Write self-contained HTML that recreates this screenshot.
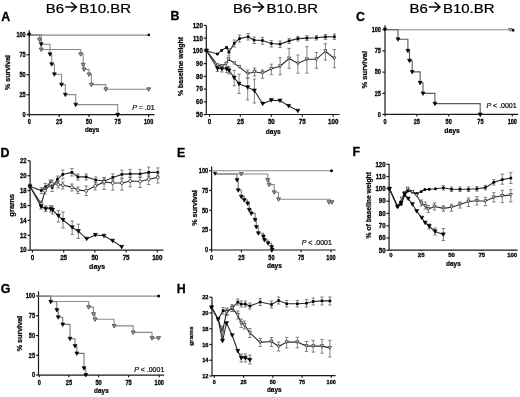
<!DOCTYPE html>
<html><head><meta charset="utf-8"><style>
html,body{margin:0;padding:0;background:#fff;}
svg{display:block;will-change:transform;}
text{font-family:"Liberation Sans", sans-serif;}
</style></head><body>
<svg width="520" height="397" viewBox="0 0 520 397">
<rect width="520" height="397" fill="#fff"/>
<g>
<text transform="translate(45.80 12.60) scale(1.12 1.0)" font-size="13.4" font-weight="normal" text-anchor="start" fill="#000" stroke="#000" stroke-width="0.25">B6</text>
<path d="M65.30,7 H76.30 M71.10,2.3 L76.40,7 L71.10,11.7" fill="none" stroke="#000" stroke-width="1.4"/>
<text transform="translate(79.30 12.60) scale(1.12 1.0)" font-size="13.4" font-weight="normal" text-anchor="start" fill="#000" stroke="#000" stroke-width="0.25">B10.BR</text>
<text transform="translate(232.90 12.60) scale(1.12 1.0)" font-size="13.4" font-weight="normal" text-anchor="start" fill="#000" stroke="#000" stroke-width="0.25">B6</text>
<path d="M252.40,7 H263.40 M258.20,2.3 L263.50,7 L258.20,11.7" fill="none" stroke="#000" stroke-width="1.4"/>
<text transform="translate(266.40 12.60) scale(1.12 1.0)" font-size="13.4" font-weight="normal" text-anchor="start" fill="#000" stroke="#000" stroke-width="0.25">B10.BR</text>
<text transform="translate(409.40 12.60) scale(1.12 1.0)" font-size="13.4" font-weight="normal" text-anchor="start" fill="#000" stroke="#000" stroke-width="0.25">B6</text>
<path d="M428.90,7 H439.90 M434.70,2.3 L440.00,7 L434.70,11.7" fill="none" stroke="#000" stroke-width="1.4"/>
<text transform="translate(442.90 12.60) scale(1.12 1.0)" font-size="13.4" font-weight="normal" text-anchor="start" fill="#000" stroke="#000" stroke-width="0.25">B10.BR</text>
<text transform="translate(1.30 20.70)" font-size="12.4" font-weight="bold" text-anchor="start" fill="#000" stroke="#000" stroke-width="0.3">A</text>
<text transform="translate(170.50 20.40)" font-size="12.4" font-weight="bold" text-anchor="start" fill="#000" stroke="#000" stroke-width="0.3">B</text>
<text transform="translate(356.00 20.60)" font-size="12.4" font-weight="bold" text-anchor="start" fill="#000" stroke="#000" stroke-width="0.3">C</text>
<text transform="translate(0.60 156.80)" font-size="12.4" font-weight="bold" text-anchor="start" fill="#000" stroke="#000" stroke-width="0.3">D</text>
<text transform="translate(177.10 156.60)" font-size="12.4" font-weight="bold" text-anchor="start" fill="#000" stroke="#000" stroke-width="0.3">E</text>
<text transform="translate(352.40 156.40)" font-size="12.4" font-weight="bold" text-anchor="start" fill="#000" stroke="#000" stroke-width="0.3">F</text>
<text transform="translate(0.80 292.50)" font-size="12.4" font-weight="bold" text-anchor="start" fill="#000" stroke="#000" stroke-width="0.3">G</text>
<text transform="translate(176.80 292.60)" font-size="12.4" font-weight="bold" text-anchor="start" fill="#000" stroke="#000" stroke-width="0.3">H</text>
<!--PANELS-->
<line x1="29.20" y1="30.30" x2="29.20" y2="114.70" stroke="#1a1a1a" stroke-width="1.2"/>
<line x1="26.60" y1="34.80" x2="29.20" y2="34.80" stroke="#1a1a1a" stroke-width="1.2"/>
<text transform="translate(25.70 37.10) scale(0.83 1.0)" font-size="6.7" font-weight="bold" text-anchor="end" fill="#000" stroke="#000" stroke-width="0.28">100</text>
<line x1="26.60" y1="54.78" x2="29.20" y2="54.78" stroke="#1a1a1a" stroke-width="1.2"/>
<text transform="translate(25.70 57.08) scale(0.83 1.0)" font-size="6.7" font-weight="bold" text-anchor="end" fill="#000" stroke="#000" stroke-width="0.28">75</text>
<line x1="26.60" y1="74.75" x2="29.20" y2="74.75" stroke="#1a1a1a" stroke-width="1.2"/>
<text transform="translate(25.70 77.05) scale(0.83 1.0)" font-size="6.7" font-weight="bold" text-anchor="end" fill="#000" stroke="#000" stroke-width="0.28">50</text>
<line x1="26.60" y1="94.72" x2="29.20" y2="94.72" stroke="#1a1a1a" stroke-width="1.2"/>
<text transform="translate(25.70 97.03) scale(0.83 1.0)" font-size="6.7" font-weight="bold" text-anchor="end" fill="#000" stroke="#000" stroke-width="0.28">25</text>
<line x1="26.60" y1="114.70" x2="29.20" y2="114.70" stroke="#1a1a1a" stroke-width="1.2"/>
<text transform="translate(25.70 117.00) scale(0.83 1.0)" font-size="6.7" font-weight="bold" text-anchor="end" fill="#000" stroke="#000" stroke-width="0.28">0</text>
<line x1="29.20" y1="114.70" x2="154.40" y2="114.70" stroke="#1a1a1a" stroke-width="1.2"/>
<line x1="29.30" y1="114.70" x2="29.30" y2="116.90" stroke="#1a1a1a" stroke-width="1.2"/>
<text transform="translate(29.30 123.80) scale(0.83 1.0)" font-size="6.7" font-weight="bold" text-anchor="middle" fill="#000" stroke="#000" stroke-width="0.28">0</text>
<line x1="59.20" y1="114.70" x2="59.20" y2="116.90" stroke="#1a1a1a" stroke-width="1.2"/>
<text transform="translate(59.20 123.80) scale(0.83 1.0)" font-size="6.7" font-weight="bold" text-anchor="middle" fill="#000" stroke="#000" stroke-width="0.28">25</text>
<line x1="88.90" y1="114.70" x2="88.90" y2="116.90" stroke="#1a1a1a" stroke-width="1.2"/>
<text transform="translate(88.90 123.80) scale(0.83 1.0)" font-size="6.7" font-weight="bold" text-anchor="middle" fill="#000" stroke="#000" stroke-width="0.28">50</text>
<line x1="117.70" y1="114.70" x2="117.70" y2="116.90" stroke="#1a1a1a" stroke-width="1.2"/>
<text transform="translate(117.70 123.80) scale(0.83 1.0)" font-size="6.7" font-weight="bold" text-anchor="middle" fill="#000" stroke="#000" stroke-width="0.28">75</text>
<line x1="148.60" y1="114.70" x2="148.60" y2="116.90" stroke="#1a1a1a" stroke-width="1.2"/>
<text transform="translate(148.60 123.80) scale(0.83 1.0)" font-size="6.7" font-weight="bold" text-anchor="middle" fill="#000" stroke="#000" stroke-width="0.28">100</text>
<text transform="translate(10.30 72.50) rotate(-90)" font-size="7.1" font-weight="bold" text-anchor="middle" fill="#111" stroke="#111" stroke-width="0.3">% survival</text>
<text transform="translate(92.10 132.40)" font-size="6.3" font-weight="bold" text-anchor="middle" fill="#000" stroke="#000" stroke-width="0.2">days</text>
<text x="154.60" y="109.60" font-size="7" text-anchor="end" fill="#000" stroke="#000" stroke-width="0.2"><tspan font-style="italic">P</tspan> = .01</text>
<line x1="29.20" y1="35.10" x2="148.70" y2="35.10" stroke="#8a8a8a" stroke-width="1.2"/>
<rect x="147.60" y="33.70" width="2.4" height="2.4" fill="#000"/>
<path d="M29.20,34.90 H39.60 V39.60 H41.20 V49.50 H80.70 V54.20 H83.20 V64.80 H84.00 V69.40 H89.00 V74.40 H91.40 V84.60 H105.80 V89.30 H148.70 V89.30" fill="none" stroke="#8a8a8a" stroke-width="1.1"/>
<path d="M29.20,34.90 H41.20 V44.20 H50.00 V54.20 H51.70 V64.20 H54.40 V74.30 H61.50 V84.60 H65.30 V94.60 H75.70 V104.60 H117.70 V114.70" fill="none" stroke="#8a8a8a" stroke-width="1.1"/>
<polygon points="37.45,38.14 41.35,38.14 39.40,41.66" fill="#a0a0a0" stroke="#505050" stroke-width="0.9"/>
<polygon points="39.25,48.04 43.15,48.04 41.20,51.55" fill="#a0a0a0" stroke="#505050" stroke-width="0.9"/>
<polygon points="78.75,52.74 82.65,52.74 80.70,56.26" fill="#a0a0a0" stroke="#505050" stroke-width="0.9"/>
<polygon points="81.25,63.34 85.15,63.34 83.20,66.85" fill="#a0a0a0" stroke="#505050" stroke-width="0.9"/>
<polygon points="82.05,67.95 85.95,67.95 84.00,71.45" fill="#a0a0a0" stroke="#505050" stroke-width="0.9"/>
<polygon points="87.05,72.95 90.95,72.95 89.00,76.45" fill="#a0a0a0" stroke="#505050" stroke-width="0.9"/>
<polygon points="89.45,83.14 93.35,83.14 91.40,86.65" fill="#a0a0a0" stroke="#505050" stroke-width="0.9"/>
<polygon points="103.85,87.84 107.75,87.84 105.80,91.35" fill="#a0a0a0" stroke="#505050" stroke-width="0.9"/>
<polygon points="146.75,87.84 150.65,87.84 148.70,91.35" fill="#a0a0a0" stroke="#505050" stroke-width="0.9"/>
<polygon points="39.25,42.74 43.15,42.74 41.20,46.26" fill="#000" stroke="#000" stroke-width="0.6"/>
<polygon points="48.05,52.74 51.95,52.74 50.00,56.26" fill="#000" stroke="#000" stroke-width="0.6"/>
<polygon points="49.75,62.74 53.65,62.74 51.70,66.25" fill="#000" stroke="#000" stroke-width="0.6"/>
<polygon points="52.45,72.84 56.35,72.84 54.40,76.35" fill="#000" stroke="#000" stroke-width="0.6"/>
<polygon points="59.55,83.14 63.45,83.14 61.50,86.65" fill="#000" stroke="#000" stroke-width="0.6"/>
<polygon points="63.35,93.14 67.25,93.14 65.30,96.65" fill="#000" stroke="#000" stroke-width="0.6"/>
<polygon points="73.75,103.14 77.65,103.14 75.70,106.65" fill="#000" stroke="#000" stroke-width="0.6"/>
<polygon points="115.75,113.25 119.65,113.25 117.70,116.75" fill="#000" stroke="#000" stroke-width="0.6"/>
<polygon points="27.50,33.07 30.90,33.07 29.20,36.13" fill="#000" stroke="#000" stroke-width="0.6"/>
<line x1="206.30" y1="25.40" x2="206.30" y2="114.60" stroke="#1a1a1a" stroke-width="1.2"/>
<line x1="203.70" y1="25.40" x2="206.30" y2="25.40" stroke="#1a1a1a" stroke-width="1.2"/>
<text transform="translate(202.80 27.77) scale(0.88 1.0)" font-size="6.9" font-weight="bold" text-anchor="end" fill="#000" stroke="#000" stroke-width="0.28">120</text>
<line x1="203.70" y1="38.14" x2="206.30" y2="38.14" stroke="#1a1a1a" stroke-width="1.2"/>
<text transform="translate(202.80 40.52) scale(0.88 1.0)" font-size="6.9" font-weight="bold" text-anchor="end" fill="#000" stroke="#000" stroke-width="0.28">110</text>
<line x1="203.70" y1="50.89" x2="206.30" y2="50.89" stroke="#1a1a1a" stroke-width="1.2"/>
<text transform="translate(202.80 53.26) scale(0.88 1.0)" font-size="6.9" font-weight="bold" text-anchor="end" fill="#000" stroke="#000" stroke-width="0.28">100</text>
<line x1="203.70" y1="63.63" x2="206.30" y2="63.63" stroke="#1a1a1a" stroke-width="1.2"/>
<text transform="translate(202.80 66.00) scale(0.88 1.0)" font-size="6.9" font-weight="bold" text-anchor="end" fill="#000" stroke="#000" stroke-width="0.28">90</text>
<line x1="203.70" y1="76.37" x2="206.30" y2="76.37" stroke="#1a1a1a" stroke-width="1.2"/>
<text transform="translate(202.80 78.75) scale(0.88 1.0)" font-size="6.9" font-weight="bold" text-anchor="end" fill="#000" stroke="#000" stroke-width="0.28">80</text>
<line x1="203.70" y1="89.11" x2="206.30" y2="89.11" stroke="#1a1a1a" stroke-width="1.2"/>
<text transform="translate(202.80 91.49) scale(0.88 1.0)" font-size="6.9" font-weight="bold" text-anchor="end" fill="#000" stroke="#000" stroke-width="0.28">70</text>
<line x1="203.70" y1="101.86" x2="206.30" y2="101.86" stroke="#1a1a1a" stroke-width="1.2"/>
<text transform="translate(202.80 104.23) scale(0.88 1.0)" font-size="6.9" font-weight="bold" text-anchor="end" fill="#000" stroke="#000" stroke-width="0.28">60</text>
<line x1="203.70" y1="114.60" x2="206.30" y2="114.60" stroke="#1a1a1a" stroke-width="1.2"/>
<text transform="translate(202.80 116.97) scale(0.88 1.0)" font-size="6.9" font-weight="bold" text-anchor="end" fill="#000" stroke="#000" stroke-width="0.28">50</text>
<line x1="206.30" y1="114.50" x2="339.60" y2="114.50" stroke="#1a1a1a" stroke-width="1.2"/>
<line x1="209.50" y1="114.50" x2="209.50" y2="116.70" stroke="#1a1a1a" stroke-width="1.2"/>
<text transform="translate(209.50 124.27) scale(0.9 1.0)" font-size="6.9" font-weight="bold" text-anchor="middle" fill="#000" stroke="#000" stroke-width="0.28">0</text>
<line x1="240.43" y1="114.50" x2="240.43" y2="116.70" stroke="#1a1a1a" stroke-width="1.2"/>
<text transform="translate(240.43 124.27) scale(0.9 1.0)" font-size="6.9" font-weight="bold" text-anchor="middle" fill="#000" stroke="#000" stroke-width="0.28">25</text>
<line x1="271.35" y1="114.50" x2="271.35" y2="116.70" stroke="#1a1a1a" stroke-width="1.2"/>
<text transform="translate(271.35 124.27) scale(0.9 1.0)" font-size="6.9" font-weight="bold" text-anchor="middle" fill="#000" stroke="#000" stroke-width="0.28">50</text>
<line x1="302.27" y1="114.50" x2="302.27" y2="116.70" stroke="#1a1a1a" stroke-width="1.2"/>
<text transform="translate(302.27 124.27) scale(0.9 1.0)" font-size="6.9" font-weight="bold" text-anchor="middle" fill="#000" stroke="#000" stroke-width="0.28">75</text>
<line x1="333.20" y1="114.50" x2="333.20" y2="116.70" stroke="#1a1a1a" stroke-width="1.2"/>
<text transform="translate(333.20 124.27) scale(0.9 1.0)" font-size="6.9" font-weight="bold" text-anchor="middle" fill="#000" stroke="#000" stroke-width="0.28">100</text>
<text transform="translate(182.60 66.50) rotate(-90)" font-size="6.85" font-weight="bold" text-anchor="middle" fill="#111" stroke="#111" stroke-width="0.3">% baseline weight</text>
<text transform="translate(273.20 133.60)" font-size="6.6" font-weight="bold" text-anchor="middle" fill="#000" stroke="#000" stroke-width="0.2">days</text>
<line x1="228.90" y1="48.50" x2="228.90" y2="56.00" stroke="#666666" stroke-width="0.8"/>
<line x1="227.20" y1="48.50" x2="230.60" y2="48.50" stroke="#666666" stroke-width="0.8"/>
<line x1="227.20" y1="56.00" x2="230.60" y2="56.00" stroke="#666666" stroke-width="0.8"/>
<line x1="234.20" y1="40.00" x2="234.20" y2="47.00" stroke="#666666" stroke-width="0.8"/>
<line x1="232.50" y1="40.00" x2="235.90" y2="40.00" stroke="#666666" stroke-width="0.8"/>
<line x1="232.50" y1="47.00" x2="235.90" y2="47.00" stroke="#666666" stroke-width="0.8"/>
<line x1="239.50" y1="35.00" x2="239.50" y2="42.00" stroke="#666666" stroke-width="0.8"/>
<line x1="237.80" y1="35.00" x2="241.20" y2="35.00" stroke="#666666" stroke-width="0.8"/>
<line x1="237.80" y1="42.00" x2="241.20" y2="42.00" stroke="#666666" stroke-width="0.8"/>
<line x1="248.10" y1="33.50" x2="248.10" y2="40.00" stroke="#666666" stroke-width="0.8"/>
<line x1="246.40" y1="33.50" x2="249.80" y2="33.50" stroke="#666666" stroke-width="0.8"/>
<line x1="246.40" y1="40.00" x2="249.80" y2="40.00" stroke="#666666" stroke-width="0.8"/>
<line x1="254.10" y1="37.00" x2="254.10" y2="43.50" stroke="#666666" stroke-width="0.8"/>
<line x1="252.40" y1="37.00" x2="255.80" y2="37.00" stroke="#666666" stroke-width="0.8"/>
<line x1="252.40" y1="43.50" x2="255.80" y2="43.50" stroke="#666666" stroke-width="0.8"/>
<line x1="262.50" y1="37.30" x2="262.50" y2="44.30" stroke="#666666" stroke-width="0.8"/>
<line x1="260.80" y1="37.30" x2="264.20" y2="37.30" stroke="#666666" stroke-width="0.8"/>
<line x1="260.80" y1="44.30" x2="264.20" y2="44.30" stroke="#666666" stroke-width="0.8"/>
<line x1="271.40" y1="40.50" x2="271.40" y2="47.00" stroke="#666666" stroke-width="0.8"/>
<line x1="269.70" y1="40.50" x2="273.10" y2="40.50" stroke="#666666" stroke-width="0.8"/>
<line x1="269.70" y1="47.00" x2="273.10" y2="47.00" stroke="#666666" stroke-width="0.8"/>
<line x1="280.10" y1="41.00" x2="280.10" y2="47.50" stroke="#666666" stroke-width="0.8"/>
<line x1="278.40" y1="41.00" x2="281.80" y2="41.00" stroke="#666666" stroke-width="0.8"/>
<line x1="278.40" y1="47.50" x2="281.80" y2="47.50" stroke="#666666" stroke-width="0.8"/>
<line x1="289.10" y1="38.40" x2="289.10" y2="43.50" stroke="#666666" stroke-width="0.8"/>
<line x1="287.40" y1="38.40" x2="290.80" y2="38.40" stroke="#666666" stroke-width="0.8"/>
<line x1="287.40" y1="43.50" x2="290.80" y2="43.50" stroke="#666666" stroke-width="0.8"/>
<line x1="297.90" y1="36.40" x2="297.90" y2="41.00" stroke="#666666" stroke-width="0.8"/>
<line x1="296.20" y1="36.40" x2="299.60" y2="36.40" stroke="#666666" stroke-width="0.8"/>
<line x1="296.20" y1="41.00" x2="299.60" y2="41.00" stroke="#666666" stroke-width="0.8"/>
<line x1="306.90" y1="35.60" x2="306.90" y2="40.60" stroke="#666666" stroke-width="0.8"/>
<line x1="305.20" y1="35.60" x2="308.60" y2="35.60" stroke="#666666" stroke-width="0.8"/>
<line x1="305.20" y1="40.60" x2="308.60" y2="40.60" stroke="#666666" stroke-width="0.8"/>
<line x1="316.40" y1="35.60" x2="316.40" y2="40.00" stroke="#666666" stroke-width="0.8"/>
<line x1="314.70" y1="35.60" x2="318.10" y2="35.60" stroke="#666666" stroke-width="0.8"/>
<line x1="314.70" y1="40.00" x2="318.10" y2="40.00" stroke="#666666" stroke-width="0.8"/>
<line x1="325.40" y1="34.50" x2="325.40" y2="39.40" stroke="#666666" stroke-width="0.8"/>
<line x1="323.70" y1="34.50" x2="327.10" y2="34.50" stroke="#666666" stroke-width="0.8"/>
<line x1="323.70" y1="39.40" x2="327.10" y2="39.40" stroke="#666666" stroke-width="0.8"/>
<line x1="334.40" y1="34.00" x2="334.40" y2="39.40" stroke="#666666" stroke-width="0.8"/>
<line x1="332.70" y1="34.00" x2="336.10" y2="34.00" stroke="#666666" stroke-width="0.8"/>
<line x1="332.70" y1="39.40" x2="336.10" y2="39.40" stroke="#666666" stroke-width="0.8"/>
<polyline points="206.50,50.70 217.40,54.00 221.60,50.40 226.60,47.40 228.90,52.20 234.20,43.40 239.50,38.60 248.10,36.80 254.10,40.10 262.50,40.50 271.40,43.50 280.10,44.10 289.10,40.90 297.90,38.60 306.90,38.10 316.40,37.70 325.40,36.90 334.40,36.80" fill="none" stroke="#2a2a2a" stroke-width="1.1" stroke-linejoin="miter"/>
<rect x="205.20" y="49.40" width="2.6" height="2.6" fill="#000"/>
<rect x="216.10" y="52.70" width="2.6" height="2.6" fill="#000"/>
<rect x="220.30" y="49.10" width="2.6" height="2.6" fill="#000"/>
<rect x="225.30" y="46.10" width="2.6" height="2.6" fill="#000"/>
<rect x="227.60" y="50.90" width="2.6" height="2.6" fill="#000"/>
<rect x="232.90" y="42.10" width="2.6" height="2.6" fill="#000"/>
<rect x="238.20" y="37.30" width="2.6" height="2.6" fill="#000"/>
<rect x="246.80" y="35.50" width="2.6" height="2.6" fill="#000"/>
<rect x="252.80" y="38.80" width="2.6" height="2.6" fill="#000"/>
<rect x="261.20" y="39.20" width="2.6" height="2.6" fill="#000"/>
<rect x="270.10" y="42.20" width="2.6" height="2.6" fill="#000"/>
<rect x="278.80" y="42.80" width="2.6" height="2.6" fill="#000"/>
<rect x="287.80" y="39.60" width="2.6" height="2.6" fill="#000"/>
<rect x="296.60" y="37.30" width="2.6" height="2.6" fill="#000"/>
<rect x="305.60" y="36.80" width="2.6" height="2.6" fill="#000"/>
<rect x="315.10" y="36.40" width="2.6" height="2.6" fill="#000"/>
<rect x="324.10" y="35.60" width="2.6" height="2.6" fill="#000"/>
<rect x="333.10" y="35.50" width="2.6" height="2.6" fill="#000"/>
<line x1="247.70" y1="70.00" x2="247.70" y2="78.00" stroke="#666666" stroke-width="0.8"/>
<line x1="246.00" y1="70.00" x2="249.40" y2="70.00" stroke="#666666" stroke-width="0.8"/>
<line x1="246.00" y1="78.00" x2="249.40" y2="78.00" stroke="#666666" stroke-width="0.8"/>
<line x1="254.60" y1="68.00" x2="254.60" y2="76.00" stroke="#666666" stroke-width="0.8"/>
<line x1="252.90" y1="68.00" x2="256.30" y2="68.00" stroke="#666666" stroke-width="0.8"/>
<line x1="252.90" y1="76.00" x2="256.30" y2="76.00" stroke="#666666" stroke-width="0.8"/>
<line x1="262.50" y1="70.00" x2="262.50" y2="78.20" stroke="#666666" stroke-width="0.8"/>
<line x1="260.80" y1="70.00" x2="264.20" y2="70.00" stroke="#666666" stroke-width="0.8"/>
<line x1="260.80" y1="78.20" x2="264.20" y2="78.20" stroke="#666666" stroke-width="0.8"/>
<line x1="271.40" y1="64.20" x2="271.40" y2="74.80" stroke="#666666" stroke-width="0.8"/>
<line x1="269.70" y1="64.20" x2="273.10" y2="64.20" stroke="#666666" stroke-width="0.8"/>
<line x1="269.70" y1="74.80" x2="273.10" y2="74.80" stroke="#666666" stroke-width="0.8"/>
<line x1="280.10" y1="57.70" x2="280.10" y2="74.80" stroke="#666666" stroke-width="0.8"/>
<line x1="278.40" y1="57.70" x2="281.80" y2="57.70" stroke="#666666" stroke-width="0.8"/>
<line x1="278.40" y1="74.80" x2="281.80" y2="74.80" stroke="#666666" stroke-width="0.8"/>
<line x1="289.10" y1="48.40" x2="289.10" y2="68.30" stroke="#666666" stroke-width="0.8"/>
<line x1="287.40" y1="48.40" x2="290.80" y2="48.40" stroke="#666666" stroke-width="0.8"/>
<line x1="287.40" y1="68.30" x2="290.80" y2="68.30" stroke="#666666" stroke-width="0.8"/>
<line x1="297.90" y1="55.00" x2="297.90" y2="73.20" stroke="#666666" stroke-width="0.8"/>
<line x1="296.20" y1="55.00" x2="299.60" y2="55.00" stroke="#666666" stroke-width="0.8"/>
<line x1="296.20" y1="73.20" x2="299.60" y2="73.20" stroke="#666666" stroke-width="0.8"/>
<line x1="306.90" y1="46.70" x2="306.90" y2="73.20" stroke="#666666" stroke-width="0.8"/>
<line x1="305.20" y1="46.70" x2="308.60" y2="46.70" stroke="#666666" stroke-width="0.8"/>
<line x1="305.20" y1="73.20" x2="308.60" y2="73.20" stroke="#666666" stroke-width="0.8"/>
<line x1="316.40" y1="52.50" x2="316.40" y2="68.30" stroke="#666666" stroke-width="0.8"/>
<line x1="314.70" y1="52.50" x2="318.10" y2="52.50" stroke="#666666" stroke-width="0.8"/>
<line x1="314.70" y1="68.30" x2="318.10" y2="68.30" stroke="#666666" stroke-width="0.8"/>
<line x1="325.40" y1="43.80" x2="325.40" y2="60.10" stroke="#666666" stroke-width="0.8"/>
<line x1="323.70" y1="43.80" x2="327.10" y2="43.80" stroke="#666666" stroke-width="0.8"/>
<line x1="323.70" y1="60.10" x2="327.10" y2="60.10" stroke="#666666" stroke-width="0.8"/>
<line x1="334.40" y1="49.50" x2="334.40" y2="67.80" stroke="#666666" stroke-width="0.8"/>
<line x1="332.70" y1="49.50" x2="336.10" y2="49.50" stroke="#666666" stroke-width="0.8"/>
<line x1="332.70" y1="67.80" x2="336.10" y2="67.80" stroke="#666666" stroke-width="0.8"/>
<polyline points="206.50,50.70 217.80,65.30 221.80,66.00 226.20,63.70 228.50,59.20 234.20,63.10 239.20,66.90 247.70,73.70 254.60,71.70 262.50,73.20 271.40,68.80 280.10,66.20 289.10,58.50 297.90,63.40 306.90,59.30 316.40,59.30 325.40,51.20 334.40,58.50" fill="none" stroke="#2a2a2a" stroke-width="1.1" stroke-linejoin="miter"/>
<polygon points="204.90,49.26 208.10,49.26 206.50,52.14" fill="#fff" stroke="#333" stroke-width="0.8"/>
<polygon points="216.20,63.86 219.40,63.86 217.80,66.74" fill="#fff" stroke="#333" stroke-width="0.8"/>
<polygon points="220.20,64.56 223.40,64.56 221.80,67.44" fill="#fff" stroke="#333" stroke-width="0.8"/>
<polygon points="224.60,62.26 227.80,62.26 226.20,65.14" fill="#fff" stroke="#333" stroke-width="0.8"/>
<polygon points="226.90,57.76 230.10,57.76 228.50,60.64" fill="#fff" stroke="#333" stroke-width="0.8"/>
<polygon points="232.60,61.66 235.80,61.66 234.20,64.54" fill="#fff" stroke="#333" stroke-width="0.8"/>
<polygon points="237.60,65.46 240.80,65.46 239.20,68.34" fill="#fff" stroke="#333" stroke-width="0.8"/>
<polygon points="246.10,72.26 249.30,72.26 247.70,75.14" fill="#fff" stroke="#333" stroke-width="0.8"/>
<polygon points="253.00,70.26 256.20,70.26 254.60,73.14" fill="#fff" stroke="#333" stroke-width="0.8"/>
<polygon points="260.90,71.76 264.10,71.76 262.50,74.64" fill="#fff" stroke="#333" stroke-width="0.8"/>
<polygon points="269.80,67.36 273.00,67.36 271.40,70.24" fill="#fff" stroke="#333" stroke-width="0.8"/>
<polygon points="278.50,64.76 281.70,64.76 280.10,67.64" fill="#fff" stroke="#333" stroke-width="0.8"/>
<polygon points="287.50,57.06 290.70,57.06 289.10,59.94" fill="#fff" stroke="#333" stroke-width="0.8"/>
<polygon points="296.30,61.96 299.50,61.96 297.90,64.84" fill="#fff" stroke="#333" stroke-width="0.8"/>
<polygon points="305.30,57.86 308.50,57.86 306.90,60.74" fill="#fff" stroke="#333" stroke-width="0.8"/>
<polygon points="314.80,57.86 318.00,57.86 316.40,60.74" fill="#fff" stroke="#333" stroke-width="0.8"/>
<polygon points="323.80,49.76 327.00,49.76 325.40,52.64" fill="#fff" stroke="#333" stroke-width="0.8"/>
<polygon points="332.80,57.06 336.00,57.06 334.40,59.94" fill="#fff" stroke="#333" stroke-width="0.8"/>
<line x1="217.50" y1="66.00" x2="217.50" y2="71.50" stroke="#666666" stroke-width="0.8"/>
<line x1="215.80" y1="66.00" x2="219.20" y2="66.00" stroke="#666666" stroke-width="0.8"/>
<line x1="215.80" y1="71.50" x2="219.20" y2="71.50" stroke="#666666" stroke-width="0.8"/>
<line x1="221.90" y1="66.00" x2="221.90" y2="72.00" stroke="#666666" stroke-width="0.8"/>
<line x1="220.20" y1="66.00" x2="223.60" y2="66.00" stroke="#666666" stroke-width="0.8"/>
<line x1="220.20" y1="72.00" x2="223.60" y2="72.00" stroke="#666666" stroke-width="0.8"/>
<line x1="226.70" y1="66.00" x2="226.70" y2="72.50" stroke="#666666" stroke-width="0.8"/>
<line x1="225.00" y1="66.00" x2="228.40" y2="66.00" stroke="#666666" stroke-width="0.8"/>
<line x1="225.00" y1="72.50" x2="228.40" y2="72.50" stroke="#666666" stroke-width="0.8"/>
<line x1="229.00" y1="66.50" x2="229.00" y2="74.00" stroke="#666666" stroke-width="0.8"/>
<line x1="227.30" y1="66.50" x2="230.70" y2="66.50" stroke="#666666" stroke-width="0.8"/>
<line x1="227.30" y1="74.00" x2="230.70" y2="74.00" stroke="#666666" stroke-width="0.8"/>
<line x1="234.20" y1="70.40" x2="234.20" y2="85.80" stroke="#666666" stroke-width="0.8"/>
<line x1="232.50" y1="70.40" x2="235.90" y2="70.40" stroke="#666666" stroke-width="0.8"/>
<line x1="232.50" y1="85.80" x2="235.90" y2="85.80" stroke="#666666" stroke-width="0.8"/>
<line x1="239.00" y1="74.20" x2="239.00" y2="93.50" stroke="#666666" stroke-width="0.8"/>
<line x1="237.30" y1="74.20" x2="240.70" y2="74.20" stroke="#666666" stroke-width="0.8"/>
<line x1="237.30" y1="93.50" x2="240.70" y2="93.50" stroke="#666666" stroke-width="0.8"/>
<line x1="247.70" y1="78.00" x2="247.70" y2="100.00" stroke="#666666" stroke-width="0.8"/>
<line x1="246.00" y1="78.00" x2="249.40" y2="78.00" stroke="#666666" stroke-width="0.8"/>
<line x1="246.00" y1="100.00" x2="249.40" y2="100.00" stroke="#666666" stroke-width="0.8"/>
<line x1="254.40" y1="79.00" x2="254.40" y2="103.00" stroke="#666666" stroke-width="0.8"/>
<line x1="252.70" y1="79.00" x2="256.10" y2="79.00" stroke="#666666" stroke-width="0.8"/>
<line x1="252.70" y1="103.00" x2="256.10" y2="103.00" stroke="#666666" stroke-width="0.8"/>
<polyline points="206.50,50.70 217.50,68.50 221.90,68.80 226.70,69.00 229.00,70.40 234.20,77.70 239.00,83.80 247.70,87.30 254.40,90.60 262.70,103.70 271.30,100.20 280.00,100.60 288.70,106.00 297.90,110.80" fill="none" stroke="#2a2a2a" stroke-width="1.1" stroke-linejoin="miter"/>
<polygon points="204.45,49.06 208.55,49.06 206.50,52.75" fill="#000" stroke="#000" stroke-width="0.5"/>
<polygon points="215.45,66.86 219.55,66.86 217.50,70.55" fill="#000" stroke="#000" stroke-width="0.5"/>
<polygon points="219.85,67.16 223.95,67.16 221.90,70.84" fill="#000" stroke="#000" stroke-width="0.5"/>
<polygon points="224.65,67.36 228.75,67.36 226.70,71.05" fill="#000" stroke="#000" stroke-width="0.5"/>
<polygon points="226.95,68.76 231.05,68.76 229.00,72.45" fill="#000" stroke="#000" stroke-width="0.5"/>
<polygon points="232.15,76.06 236.25,76.06 234.20,79.75" fill="#000" stroke="#000" stroke-width="0.5"/>
<polygon points="236.95,82.16 241.05,82.16 239.00,85.84" fill="#000" stroke="#000" stroke-width="0.5"/>
<polygon points="245.65,85.66 249.75,85.66 247.70,89.34" fill="#000" stroke="#000" stroke-width="0.5"/>
<polygon points="252.35,88.95 256.45,88.95 254.40,92.64" fill="#000" stroke="#000" stroke-width="0.5"/>
<polygon points="260.65,102.06 264.75,102.06 262.70,105.75" fill="#000" stroke="#000" stroke-width="0.5"/>
<polygon points="269.25,98.56 273.35,98.56 271.30,102.25" fill="#000" stroke="#000" stroke-width="0.5"/>
<polygon points="277.95,98.95 282.05,98.95 280.00,102.64" fill="#000" stroke="#000" stroke-width="0.5"/>
<polygon points="286.65,104.36 290.75,104.36 288.70,108.05" fill="#000" stroke="#000" stroke-width="0.5"/>
<polygon points="295.85,109.16 299.95,109.16 297.90,112.84" fill="#000" stroke="#000" stroke-width="0.5"/>
<line x1="385.00" y1="25.30" x2="385.00" y2="114.40" stroke="#1a1a1a" stroke-width="1.2"/>
<line x1="382.40" y1="29.80" x2="385.00" y2="29.80" stroke="#1a1a1a" stroke-width="1.2"/>
<text transform="translate(380.90 32.10) scale(0.83 1.0)" font-size="6.7" font-weight="bold" text-anchor="end" fill="#000" stroke="#000" stroke-width="0.28">100</text>
<line x1="382.40" y1="50.98" x2="385.00" y2="50.98" stroke="#1a1a1a" stroke-width="1.2"/>
<text transform="translate(380.90 53.28) scale(0.83 1.0)" font-size="6.7" font-weight="bold" text-anchor="end" fill="#000" stroke="#000" stroke-width="0.28">75</text>
<line x1="382.40" y1="72.15" x2="385.00" y2="72.15" stroke="#1a1a1a" stroke-width="1.2"/>
<text transform="translate(380.90 74.45) scale(0.83 1.0)" font-size="6.7" font-weight="bold" text-anchor="end" fill="#000" stroke="#000" stroke-width="0.28">50</text>
<line x1="382.40" y1="93.33" x2="385.00" y2="93.33" stroke="#1a1a1a" stroke-width="1.2"/>
<text transform="translate(380.90 95.63) scale(0.83 1.0)" font-size="6.7" font-weight="bold" text-anchor="end" fill="#000" stroke="#000" stroke-width="0.28">25</text>
<line x1="382.40" y1="114.50" x2="385.00" y2="114.50" stroke="#1a1a1a" stroke-width="1.2"/>
<text transform="translate(380.90 116.80) scale(0.83 1.0)" font-size="6.7" font-weight="bold" text-anchor="end" fill="#000" stroke="#000" stroke-width="0.28">0</text>
<line x1="385.00" y1="114.40" x2="518.20" y2="114.40" stroke="#1a1a1a" stroke-width="1.2"/>
<line x1="385.00" y1="114.40" x2="385.00" y2="116.60" stroke="#1a1a1a" stroke-width="1.2"/>
<text transform="translate(385.00 123.90) scale(0.83 1.0)" font-size="6.7" font-weight="bold" text-anchor="middle" fill="#000" stroke="#000" stroke-width="0.28">0</text>
<line x1="416.80" y1="114.40" x2="416.80" y2="116.60" stroke="#1a1a1a" stroke-width="1.2"/>
<text transform="translate(416.80 123.90) scale(0.83 1.0)" font-size="6.7" font-weight="bold" text-anchor="middle" fill="#000" stroke="#000" stroke-width="0.28">25</text>
<line x1="448.70" y1="114.40" x2="448.70" y2="116.60" stroke="#1a1a1a" stroke-width="1.2"/>
<text transform="translate(448.70 123.90) scale(0.83 1.0)" font-size="6.7" font-weight="bold" text-anchor="middle" fill="#000" stroke="#000" stroke-width="0.28">50</text>
<line x1="480.40" y1="114.40" x2="480.40" y2="116.60" stroke="#1a1a1a" stroke-width="1.2"/>
<text transform="translate(480.40 123.90) scale(0.83 1.0)" font-size="6.7" font-weight="bold" text-anchor="middle" fill="#000" stroke="#000" stroke-width="0.28">75</text>
<line x1="512.30" y1="114.40" x2="512.30" y2="116.60" stroke="#1a1a1a" stroke-width="1.2"/>
<text transform="translate(512.30 123.90) scale(0.83 1.0)" font-size="6.7" font-weight="bold" text-anchor="middle" fill="#000" stroke="#000" stroke-width="0.28">100</text>
<text transform="translate(366.50 69.80) rotate(-90)" font-size="7.6" font-weight="bold" text-anchor="middle" fill="#111" stroke="#111" stroke-width="0.3">% survival</text>
<text transform="translate(452.10 133.30)" font-size="6.8" font-weight="bold" text-anchor="middle" fill="#000" stroke="#000" stroke-width="0.2">days</text>
<text x="516.60" y="108.20" font-size="7" text-anchor="end" fill="#000" stroke="#000" stroke-width="0.2"><tspan font-style="italic">P</tspan> &lt; .0001</text>
<line x1="385.00" y1="29.80" x2="509.50" y2="29.80" stroke="#8a8a8a" stroke-width="1.1"/>
<path d="M385.00,29.80 H398.00 V39.30 H407.90 V50.80 H409.50 V60.60 H412.20 V71.90 H420.10 V82.80 H423.00 V93.40 H434.90 V103.60 H480.20 V114.40" fill="none" stroke="#5a5a5a" stroke-width="1.1"/>
<polygon points="396.05,37.84 399.95,37.84 398.00,41.35" fill="#000" stroke="#000" stroke-width="0.6"/>
<polygon points="405.95,49.34 409.85,49.34 407.90,52.85" fill="#000" stroke="#000" stroke-width="0.6"/>
<polygon points="407.55,59.14 411.45,59.14 409.50,62.66" fill="#000" stroke="#000" stroke-width="0.6"/>
<polygon points="410.25,70.45 414.15,70.45 412.20,73.95" fill="#000" stroke="#000" stroke-width="0.6"/>
<polygon points="418.15,81.34 422.05,81.34 420.10,84.85" fill="#000" stroke="#000" stroke-width="0.6"/>
<polygon points="421.05,91.95 424.95,91.95 423.00,95.45" fill="#000" stroke="#000" stroke-width="0.6"/>
<polygon points="432.95,102.14 436.85,102.14 434.90,105.65" fill="#000" stroke="#000" stroke-width="0.6"/>
<polygon points="478.25,112.95 482.15,112.95 480.20,116.45" fill="#000" stroke="#000" stroke-width="0.6"/>
<polygon points="383.30,28.07 386.70,28.07 385.00,31.13" fill="#000" stroke="#000" stroke-width="0.6"/>
<polygon points="508.60,28.36 511.80,28.36 510.20,31.24" fill="#fff" stroke="#444" stroke-width="0.8"/>
<rect x="511.70" y="28.90" width="2.6" height="2.6" fill="#000"/>
<line x1="30.10" y1="160.80" x2="30.10" y2="250.20" stroke="#1a1a1a" stroke-width="1.2"/>
<line x1="27.50" y1="160.80" x2="30.10" y2="160.80" stroke="#1a1a1a" stroke-width="1.2"/>
<text transform="translate(26.60 163.07) scale(0.9 1.0)" font-size="6.6" font-weight="bold" text-anchor="end" fill="#000" stroke="#000" stroke-width="0.28">22</text>
<line x1="27.50" y1="175.70" x2="30.10" y2="175.70" stroke="#1a1a1a" stroke-width="1.2"/>
<text transform="translate(26.60 177.97) scale(0.9 1.0)" font-size="6.6" font-weight="bold" text-anchor="end" fill="#000" stroke="#000" stroke-width="0.28">20</text>
<line x1="27.50" y1="190.60" x2="30.10" y2="190.60" stroke="#1a1a1a" stroke-width="1.2"/>
<text transform="translate(26.60 192.87) scale(0.9 1.0)" font-size="6.6" font-weight="bold" text-anchor="end" fill="#000" stroke="#000" stroke-width="0.28">18</text>
<line x1="27.50" y1="205.50" x2="30.10" y2="205.50" stroke="#1a1a1a" stroke-width="1.2"/>
<text transform="translate(26.60 207.77) scale(0.9 1.0)" font-size="6.6" font-weight="bold" text-anchor="end" fill="#000" stroke="#000" stroke-width="0.28">16</text>
<line x1="27.50" y1="220.40" x2="30.10" y2="220.40" stroke="#1a1a1a" stroke-width="1.2"/>
<text transform="translate(26.60 222.67) scale(0.9 1.0)" font-size="6.6" font-weight="bold" text-anchor="end" fill="#000" stroke="#000" stroke-width="0.28">14</text>
<line x1="27.50" y1="235.30" x2="30.10" y2="235.30" stroke="#1a1a1a" stroke-width="1.2"/>
<text transform="translate(26.60 237.57) scale(0.9 1.0)" font-size="6.6" font-weight="bold" text-anchor="end" fill="#000" stroke="#000" stroke-width="0.28">12</text>
<line x1="27.50" y1="250.20" x2="30.10" y2="250.20" stroke="#1a1a1a" stroke-width="1.2"/>
<text transform="translate(26.60 252.47) scale(0.9 1.0)" font-size="6.6" font-weight="bold" text-anchor="end" fill="#000" stroke="#000" stroke-width="0.28">10</text>
<line x1="30.10" y1="250.20" x2="163.50" y2="250.20" stroke="#1a1a1a" stroke-width="1.2"/>
<line x1="32.40" y1="250.20" x2="32.40" y2="252.40" stroke="#1a1a1a" stroke-width="1.2"/>
<text transform="translate(32.40 259.67) scale(0.9 1.0)" font-size="6.9" font-weight="bold" text-anchor="middle" fill="#000" stroke="#000" stroke-width="0.28">0</text>
<line x1="63.62" y1="250.20" x2="63.62" y2="252.40" stroke="#1a1a1a" stroke-width="1.2"/>
<text transform="translate(63.62 259.67) scale(0.9 1.0)" font-size="6.9" font-weight="bold" text-anchor="middle" fill="#000" stroke="#000" stroke-width="0.28">25</text>
<line x1="94.85" y1="250.20" x2="94.85" y2="252.40" stroke="#1a1a1a" stroke-width="1.2"/>
<text transform="translate(94.85 259.67) scale(0.9 1.0)" font-size="6.9" font-weight="bold" text-anchor="middle" fill="#000" stroke="#000" stroke-width="0.28">50</text>
<line x1="126.07" y1="250.20" x2="126.07" y2="252.40" stroke="#1a1a1a" stroke-width="1.2"/>
<text transform="translate(126.07 259.67) scale(0.9 1.0)" font-size="6.9" font-weight="bold" text-anchor="middle" fill="#000" stroke="#000" stroke-width="0.28">75</text>
<line x1="157.30" y1="250.20" x2="157.30" y2="252.40" stroke="#1a1a1a" stroke-width="1.2"/>
<text transform="translate(157.30 259.67) scale(0.9 1.0)" font-size="6.9" font-weight="bold" text-anchor="middle" fill="#000" stroke="#000" stroke-width="0.28">100</text>
<text transform="translate(14.40 205.30) rotate(-90) scale(1.0 0.88)" font-size="7.55" font-weight="bold" text-anchor="middle" fill="#111" stroke="#111" stroke-width="0.3">grams</text>
<text transform="translate(97.10 268.80)" font-size="7.0" font-weight="bold" text-anchor="middle" fill="#000" stroke="#000" stroke-width="0.2">days</text>
<line x1="30.00" y1="184.00" x2="30.00" y2="189.00" stroke="#666666" stroke-width="0.8"/>
<line x1="28.30" y1="184.00" x2="31.70" y2="184.00" stroke="#666666" stroke-width="0.8"/>
<line x1="28.30" y1="189.00" x2="31.70" y2="189.00" stroke="#666666" stroke-width="0.8"/>
<line x1="41.30" y1="187.50" x2="41.30" y2="193.50" stroke="#666666" stroke-width="0.8"/>
<line x1="39.60" y1="187.50" x2="43.00" y2="187.50" stroke="#666666" stroke-width="0.8"/>
<line x1="39.60" y1="193.50" x2="43.00" y2="193.50" stroke="#666666" stroke-width="0.8"/>
<line x1="45.40" y1="183.50" x2="45.40" y2="190.00" stroke="#666666" stroke-width="0.8"/>
<line x1="43.70" y1="183.50" x2="47.10" y2="183.50" stroke="#666666" stroke-width="0.8"/>
<line x1="43.70" y1="190.00" x2="47.10" y2="190.00" stroke="#666666" stroke-width="0.8"/>
<line x1="50.40" y1="180.00" x2="50.40" y2="186.00" stroke="#666666" stroke-width="0.8"/>
<line x1="48.70" y1="180.00" x2="52.10" y2="180.00" stroke="#666666" stroke-width="0.8"/>
<line x1="48.70" y1="186.00" x2="52.10" y2="186.00" stroke="#666666" stroke-width="0.8"/>
<line x1="52.20" y1="184.00" x2="52.20" y2="191.50" stroke="#666666" stroke-width="0.8"/>
<line x1="50.50" y1="184.00" x2="53.90" y2="184.00" stroke="#666666" stroke-width="0.8"/>
<line x1="50.50" y1="191.50" x2="53.90" y2="191.50" stroke="#666666" stroke-width="0.8"/>
<line x1="57.50" y1="176.00" x2="57.50" y2="182.50" stroke="#666666" stroke-width="0.8"/>
<line x1="55.80" y1="176.00" x2="59.20" y2="176.00" stroke="#666666" stroke-width="0.8"/>
<line x1="55.80" y1="182.50" x2="59.20" y2="182.50" stroke="#666666" stroke-width="0.8"/>
<line x1="62.80" y1="170.00" x2="62.80" y2="179.00" stroke="#666666" stroke-width="0.8"/>
<line x1="61.10" y1="170.00" x2="64.50" y2="170.00" stroke="#666666" stroke-width="0.8"/>
<line x1="61.10" y1="179.00" x2="64.50" y2="179.00" stroke="#666666" stroke-width="0.8"/>
<line x1="71.90" y1="168.50" x2="71.90" y2="176.00" stroke="#666666" stroke-width="0.8"/>
<line x1="70.20" y1="168.50" x2="73.60" y2="168.50" stroke="#666666" stroke-width="0.8"/>
<line x1="70.20" y1="176.00" x2="73.60" y2="176.00" stroke="#666666" stroke-width="0.8"/>
<line x1="77.90" y1="174.00" x2="77.90" y2="180.00" stroke="#666666" stroke-width="0.8"/>
<line x1="76.20" y1="174.00" x2="79.60" y2="174.00" stroke="#666666" stroke-width="0.8"/>
<line x1="76.20" y1="180.00" x2="79.60" y2="180.00" stroke="#666666" stroke-width="0.8"/>
<line x1="86.20" y1="174.00" x2="86.20" y2="180.00" stroke="#666666" stroke-width="0.8"/>
<line x1="84.50" y1="174.00" x2="87.90" y2="174.00" stroke="#666666" stroke-width="0.8"/>
<line x1="84.50" y1="180.00" x2="87.90" y2="180.00" stroke="#666666" stroke-width="0.8"/>
<line x1="95.80" y1="177.00" x2="95.80" y2="183.00" stroke="#666666" stroke-width="0.8"/>
<line x1="94.10" y1="177.00" x2="97.50" y2="177.00" stroke="#666666" stroke-width="0.8"/>
<line x1="94.10" y1="183.00" x2="97.50" y2="183.00" stroke="#666666" stroke-width="0.8"/>
<line x1="104.10" y1="177.40" x2="104.10" y2="184.00" stroke="#666666" stroke-width="0.8"/>
<line x1="102.40" y1="177.40" x2="105.80" y2="177.40" stroke="#666666" stroke-width="0.8"/>
<line x1="102.40" y1="184.00" x2="105.80" y2="184.00" stroke="#666666" stroke-width="0.8"/>
<line x1="112.80" y1="173.90" x2="112.80" y2="181.00" stroke="#666666" stroke-width="0.8"/>
<line x1="111.10" y1="173.90" x2="114.50" y2="173.90" stroke="#666666" stroke-width="0.8"/>
<line x1="111.10" y1="181.00" x2="114.50" y2="181.00" stroke="#666666" stroke-width="0.8"/>
<line x1="121.90" y1="170.10" x2="121.90" y2="178.00" stroke="#666666" stroke-width="0.8"/>
<line x1="120.20" y1="170.10" x2="123.60" y2="170.10" stroke="#666666" stroke-width="0.8"/>
<line x1="120.20" y1="178.00" x2="123.60" y2="178.00" stroke="#666666" stroke-width="0.8"/>
<line x1="130.20" y1="169.40" x2="130.20" y2="177.50" stroke="#666666" stroke-width="0.8"/>
<line x1="128.50" y1="169.40" x2="131.90" y2="169.40" stroke="#666666" stroke-width="0.8"/>
<line x1="128.50" y1="177.50" x2="131.90" y2="177.50" stroke="#666666" stroke-width="0.8"/>
<line x1="140.10" y1="169.40" x2="140.10" y2="177.50" stroke="#666666" stroke-width="0.8"/>
<line x1="138.40" y1="169.40" x2="141.80" y2="169.40" stroke="#666666" stroke-width="0.8"/>
<line x1="138.40" y1="177.50" x2="141.80" y2="177.50" stroke="#666666" stroke-width="0.8"/>
<line x1="148.70" y1="167.10" x2="148.70" y2="176.50" stroke="#666666" stroke-width="0.8"/>
<line x1="147.00" y1="167.10" x2="150.40" y2="167.10" stroke="#666666" stroke-width="0.8"/>
<line x1="147.00" y1="176.50" x2="150.40" y2="176.50" stroke="#666666" stroke-width="0.8"/>
<line x1="157.80" y1="167.90" x2="157.80" y2="176.00" stroke="#666666" stroke-width="0.8"/>
<line x1="156.10" y1="167.90" x2="159.50" y2="167.90" stroke="#666666" stroke-width="0.8"/>
<line x1="156.10" y1="176.00" x2="159.50" y2="176.00" stroke="#666666" stroke-width="0.8"/>
<polyline points="30.00,186.50 41.30,190.50 45.40,186.80 50.40,183.00 52.20,187.50 57.50,179.20 62.80,174.40 71.90,172.40 77.90,176.90 86.20,176.90 95.80,180.00 104.10,181.00 112.80,177.40 121.90,174.40 130.20,173.90 140.10,173.90 148.70,172.40 157.80,172.40" fill="none" stroke="#2a2a2a" stroke-width="1.1" stroke-linejoin="miter"/>
<rect x="28.70" y="185.20" width="2.6" height="2.6" fill="#000"/>
<rect x="40.00" y="189.20" width="2.6" height="2.6" fill="#000"/>
<rect x="44.10" y="185.50" width="2.6" height="2.6" fill="#000"/>
<rect x="49.10" y="181.70" width="2.6" height="2.6" fill="#000"/>
<rect x="50.90" y="186.20" width="2.6" height="2.6" fill="#000"/>
<rect x="56.20" y="177.90" width="2.6" height="2.6" fill="#000"/>
<rect x="61.50" y="173.10" width="2.6" height="2.6" fill="#000"/>
<rect x="70.60" y="171.10" width="2.6" height="2.6" fill="#000"/>
<rect x="76.60" y="175.60" width="2.6" height="2.6" fill="#000"/>
<rect x="84.90" y="175.60" width="2.6" height="2.6" fill="#000"/>
<rect x="94.50" y="178.70" width="2.6" height="2.6" fill="#000"/>
<rect x="102.80" y="179.70" width="2.6" height="2.6" fill="#000"/>
<rect x="111.50" y="176.10" width="2.6" height="2.6" fill="#000"/>
<rect x="120.60" y="173.10" width="2.6" height="2.6" fill="#000"/>
<rect x="128.90" y="172.60" width="2.6" height="2.6" fill="#000"/>
<rect x="138.80" y="172.60" width="2.6" height="2.6" fill="#000"/>
<rect x="147.40" y="171.10" width="2.6" height="2.6" fill="#000"/>
<rect x="156.50" y="171.10" width="2.6" height="2.6" fill="#000"/>
<line x1="41.30" y1="201.00" x2="41.30" y2="207.00" stroke="#666666" stroke-width="0.8"/>
<line x1="39.60" y1="201.00" x2="43.00" y2="201.00" stroke="#666666" stroke-width="0.8"/>
<line x1="39.60" y1="207.00" x2="43.00" y2="207.00" stroke="#666666" stroke-width="0.8"/>
<line x1="45.00" y1="187.50" x2="45.00" y2="194.00" stroke="#666666" stroke-width="0.8"/>
<line x1="43.30" y1="187.50" x2="46.70" y2="187.50" stroke="#666666" stroke-width="0.8"/>
<line x1="43.30" y1="194.00" x2="46.70" y2="194.00" stroke="#666666" stroke-width="0.8"/>
<line x1="50.40" y1="181.00" x2="50.40" y2="187.00" stroke="#666666" stroke-width="0.8"/>
<line x1="48.70" y1="181.00" x2="52.10" y2="181.00" stroke="#666666" stroke-width="0.8"/>
<line x1="48.70" y1="187.00" x2="52.10" y2="187.00" stroke="#666666" stroke-width="0.8"/>
<line x1="52.20" y1="180.00" x2="52.20" y2="187.00" stroke="#666666" stroke-width="0.8"/>
<line x1="50.50" y1="180.00" x2="53.90" y2="180.00" stroke="#666666" stroke-width="0.8"/>
<line x1="50.50" y1="187.00" x2="53.90" y2="187.00" stroke="#666666" stroke-width="0.8"/>
<line x1="58.20" y1="181.50" x2="58.20" y2="188.00" stroke="#666666" stroke-width="0.8"/>
<line x1="56.50" y1="181.50" x2="59.90" y2="181.50" stroke="#666666" stroke-width="0.8"/>
<line x1="56.50" y1="188.00" x2="59.90" y2="188.00" stroke="#666666" stroke-width="0.8"/>
<line x1="62.80" y1="182.00" x2="62.80" y2="189.00" stroke="#666666" stroke-width="0.8"/>
<line x1="61.10" y1="182.00" x2="64.50" y2="182.00" stroke="#666666" stroke-width="0.8"/>
<line x1="61.10" y1="189.00" x2="64.50" y2="189.00" stroke="#666666" stroke-width="0.8"/>
<line x1="71.90" y1="184.00" x2="71.90" y2="191.00" stroke="#666666" stroke-width="0.8"/>
<line x1="70.20" y1="184.00" x2="73.60" y2="184.00" stroke="#666666" stroke-width="0.8"/>
<line x1="70.20" y1="191.00" x2="73.60" y2="191.00" stroke="#666666" stroke-width="0.8"/>
<line x1="77.90" y1="187.00" x2="77.90" y2="193.50" stroke="#666666" stroke-width="0.8"/>
<line x1="76.20" y1="187.00" x2="79.60" y2="187.00" stroke="#666666" stroke-width="0.8"/>
<line x1="76.20" y1="193.50" x2="79.60" y2="193.50" stroke="#666666" stroke-width="0.8"/>
<line x1="86.20" y1="186.00" x2="86.20" y2="195.50" stroke="#666666" stroke-width="0.8"/>
<line x1="84.50" y1="186.00" x2="87.90" y2="186.00" stroke="#666666" stroke-width="0.8"/>
<line x1="84.50" y1="195.50" x2="87.90" y2="195.50" stroke="#666666" stroke-width="0.8"/>
<line x1="95.30" y1="182.00" x2="95.30" y2="190.00" stroke="#666666" stroke-width="0.8"/>
<line x1="93.60" y1="182.00" x2="97.00" y2="182.00" stroke="#666666" stroke-width="0.8"/>
<line x1="93.60" y1="190.00" x2="97.00" y2="190.00" stroke="#666666" stroke-width="0.8"/>
<line x1="104.10" y1="178.00" x2="104.10" y2="189.50" stroke="#666666" stroke-width="0.8"/>
<line x1="102.40" y1="178.00" x2="105.80" y2="178.00" stroke="#666666" stroke-width="0.8"/>
<line x1="102.40" y1="189.50" x2="105.80" y2="189.50" stroke="#666666" stroke-width="0.8"/>
<line x1="112.80" y1="179.00" x2="112.80" y2="190.10" stroke="#666666" stroke-width="0.8"/>
<line x1="111.10" y1="179.00" x2="114.50" y2="179.00" stroke="#666666" stroke-width="0.8"/>
<line x1="111.10" y1="190.10" x2="114.50" y2="190.10" stroke="#666666" stroke-width="0.8"/>
<line x1="121.90" y1="179.00" x2="121.90" y2="190.10" stroke="#666666" stroke-width="0.8"/>
<line x1="120.20" y1="179.00" x2="123.60" y2="179.00" stroke="#666666" stroke-width="0.8"/>
<line x1="120.20" y1="190.10" x2="123.60" y2="190.10" stroke="#666666" stroke-width="0.8"/>
<line x1="130.20" y1="177.00" x2="130.20" y2="186.80" stroke="#666666" stroke-width="0.8"/>
<line x1="128.50" y1="177.00" x2="131.90" y2="177.00" stroke="#666666" stroke-width="0.8"/>
<line x1="128.50" y1="186.80" x2="131.90" y2="186.80" stroke="#666666" stroke-width="0.8"/>
<line x1="140.10" y1="177.00" x2="140.10" y2="187.50" stroke="#666666" stroke-width="0.8"/>
<line x1="138.40" y1="177.00" x2="141.80" y2="177.00" stroke="#666666" stroke-width="0.8"/>
<line x1="138.40" y1="187.50" x2="141.80" y2="187.50" stroke="#666666" stroke-width="0.8"/>
<line x1="148.70" y1="175.00" x2="148.70" y2="184.50" stroke="#666666" stroke-width="0.8"/>
<line x1="147.00" y1="175.00" x2="150.40" y2="175.00" stroke="#666666" stroke-width="0.8"/>
<line x1="147.00" y1="184.50" x2="150.40" y2="184.50" stroke="#666666" stroke-width="0.8"/>
<line x1="157.80" y1="173.00" x2="157.80" y2="183.00" stroke="#666666" stroke-width="0.8"/>
<line x1="156.10" y1="173.00" x2="159.50" y2="173.00" stroke="#666666" stroke-width="0.8"/>
<line x1="156.10" y1="183.00" x2="159.50" y2="183.00" stroke="#666666" stroke-width="0.8"/>
<polyline points="30.00,186.50 41.30,204.00 45.00,190.80 50.40,184.00 52.20,183.50 58.20,184.50 62.80,185.20 71.90,187.10 77.90,190.10 86.20,190.80 95.30,186.00 104.10,181.90 112.80,183.00 121.90,183.00 130.20,181.00 140.10,181.50 148.70,179.20 157.80,177.40" fill="none" stroke="#2a2a2a" stroke-width="1.1" stroke-linejoin="miter"/>
<circle cx="30.00" cy="186.50" r="1.5" fill="#fff" stroke="#333" stroke-width="0.8"/>
<circle cx="41.30" cy="204.00" r="1.5" fill="#fff" stroke="#333" stroke-width="0.8"/>
<circle cx="45.00" cy="190.80" r="1.5" fill="#fff" stroke="#333" stroke-width="0.8"/>
<circle cx="50.40" cy="184.00" r="1.5" fill="#fff" stroke="#333" stroke-width="0.8"/>
<circle cx="52.20" cy="183.50" r="1.5" fill="#fff" stroke="#333" stroke-width="0.8"/>
<circle cx="58.20" cy="184.50" r="1.5" fill="#fff" stroke="#333" stroke-width="0.8"/>
<circle cx="62.80" cy="185.20" r="1.5" fill="#fff" stroke="#333" stroke-width="0.8"/>
<circle cx="71.90" cy="187.10" r="1.5" fill="#fff" stroke="#333" stroke-width="0.8"/>
<circle cx="77.90" cy="190.10" r="1.5" fill="#fff" stroke="#333" stroke-width="0.8"/>
<circle cx="86.20" cy="190.80" r="1.5" fill="#fff" stroke="#333" stroke-width="0.8"/>
<circle cx="95.30" cy="186.00" r="1.5" fill="#fff" stroke="#333" stroke-width="0.8"/>
<circle cx="104.10" cy="181.90" r="1.5" fill="#fff" stroke="#333" stroke-width="0.8"/>
<circle cx="112.80" cy="183.00" r="1.5" fill="#fff" stroke="#333" stroke-width="0.8"/>
<circle cx="121.90" cy="183.00" r="1.5" fill="#fff" stroke="#333" stroke-width="0.8"/>
<circle cx="130.20" cy="181.00" r="1.5" fill="#fff" stroke="#333" stroke-width="0.8"/>
<circle cx="140.10" cy="181.50" r="1.5" fill="#fff" stroke="#333" stroke-width="0.8"/>
<circle cx="148.70" cy="179.20" r="1.5" fill="#fff" stroke="#333" stroke-width="0.8"/>
<circle cx="157.80" cy="177.40" r="1.5" fill="#fff" stroke="#333" stroke-width="0.8"/>
<line x1="41.10" y1="204.50" x2="41.10" y2="209.00" stroke="#666666" stroke-width="0.8"/>
<line x1="39.40" y1="204.50" x2="42.80" y2="204.50" stroke="#666666" stroke-width="0.8"/>
<line x1="39.40" y1="209.00" x2="42.80" y2="209.00" stroke="#666666" stroke-width="0.8"/>
<line x1="45.70" y1="206.00" x2="45.70" y2="211.50" stroke="#666666" stroke-width="0.8"/>
<line x1="44.00" y1="206.00" x2="47.40" y2="206.00" stroke="#666666" stroke-width="0.8"/>
<line x1="44.00" y1="211.50" x2="47.40" y2="211.50" stroke="#666666" stroke-width="0.8"/>
<line x1="50.70" y1="205.50" x2="50.70" y2="212.00" stroke="#666666" stroke-width="0.8"/>
<line x1="49.00" y1="205.50" x2="52.40" y2="205.50" stroke="#666666" stroke-width="0.8"/>
<line x1="49.00" y1="212.00" x2="52.40" y2="212.00" stroke="#666666" stroke-width="0.8"/>
<line x1="52.60" y1="206.00" x2="52.60" y2="214.00" stroke="#666666" stroke-width="0.8"/>
<line x1="50.90" y1="206.00" x2="54.30" y2="206.00" stroke="#666666" stroke-width="0.8"/>
<line x1="50.90" y1="214.00" x2="54.30" y2="214.00" stroke="#666666" stroke-width="0.8"/>
<line x1="58.40" y1="210.40" x2="58.40" y2="222.00" stroke="#666666" stroke-width="0.8"/>
<line x1="56.70" y1="210.40" x2="60.10" y2="210.40" stroke="#666666" stroke-width="0.8"/>
<line x1="56.70" y1="222.00" x2="60.10" y2="222.00" stroke="#666666" stroke-width="0.8"/>
<line x1="63.00" y1="212.00" x2="63.00" y2="228.00" stroke="#666666" stroke-width="0.8"/>
<line x1="61.30" y1="212.00" x2="64.70" y2="212.00" stroke="#666666" stroke-width="0.8"/>
<line x1="61.30" y1="228.00" x2="64.70" y2="228.00" stroke="#666666" stroke-width="0.8"/>
<line x1="72.20" y1="221.00" x2="72.20" y2="234.40" stroke="#666666" stroke-width="0.8"/>
<line x1="70.50" y1="221.00" x2="73.90" y2="221.00" stroke="#666666" stroke-width="0.8"/>
<line x1="70.50" y1="234.40" x2="73.90" y2="234.40" stroke="#666666" stroke-width="0.8"/>
<line x1="78.40" y1="224.20" x2="78.40" y2="238.30" stroke="#666666" stroke-width="0.8"/>
<line x1="76.70" y1="224.20" x2="80.10" y2="224.20" stroke="#666666" stroke-width="0.8"/>
<line x1="76.70" y1="238.30" x2="80.10" y2="238.30" stroke="#666666" stroke-width="0.8"/>
<polyline points="30.00,186.50 41.10,206.50 45.70,208.80 50.70,208.80 52.60,210.00 58.40,215.80 63.00,220.00 72.20,227.30 78.40,231.20 86.70,238.80 95.30,235.00 104.00,235.80 112.60,240.80 121.70,246.90" fill="none" stroke="#2a2a2a" stroke-width="1.1" stroke-linejoin="miter"/>
<polygon points="27.95,184.85 32.05,184.85 30.00,188.54" fill="#000" stroke="#000" stroke-width="0.5"/>
<polygon points="39.05,204.85 43.15,204.85 41.10,208.54" fill="#000" stroke="#000" stroke-width="0.5"/>
<polygon points="43.65,207.16 47.75,207.16 45.70,210.84" fill="#000" stroke="#000" stroke-width="0.5"/>
<polygon points="48.65,207.16 52.75,207.16 50.70,210.84" fill="#000" stroke="#000" stroke-width="0.5"/>
<polygon points="50.55,208.35 54.65,208.35 52.60,212.04" fill="#000" stroke="#000" stroke-width="0.5"/>
<polygon points="56.35,214.16 60.45,214.16 58.40,217.84" fill="#000" stroke="#000" stroke-width="0.5"/>
<polygon points="60.95,218.35 65.05,218.35 63.00,222.04" fill="#000" stroke="#000" stroke-width="0.5"/>
<polygon points="70.15,225.66 74.25,225.66 72.20,229.34" fill="#000" stroke="#000" stroke-width="0.5"/>
<polygon points="76.35,229.55 80.45,229.55 78.40,233.24" fill="#000" stroke="#000" stroke-width="0.5"/>
<polygon points="84.65,237.16 88.75,237.16 86.70,240.84" fill="#000" stroke="#000" stroke-width="0.5"/>
<polygon points="93.25,233.35 97.35,233.35 95.30,237.04" fill="#000" stroke="#000" stroke-width="0.5"/>
<polygon points="101.95,234.16 106.05,234.16 104.00,237.84" fill="#000" stroke="#000" stroke-width="0.5"/>
<polygon points="110.55,239.16 114.65,239.16 112.60,242.84" fill="#000" stroke="#000" stroke-width="0.5"/>
<polygon points="119.65,245.25 123.75,245.25 121.70,248.94" fill="#000" stroke="#000" stroke-width="0.5"/>
<line x1="211.60" y1="166.40" x2="211.60" y2="250.00" stroke="#1a1a1a" stroke-width="1.2"/>
<line x1="209.00" y1="170.70" x2="211.60" y2="170.70" stroke="#1a1a1a" stroke-width="1.2"/>
<text transform="translate(208.10 173.00) scale(0.83 1.0)" font-size="6.7" font-weight="bold" text-anchor="end" fill="#000" stroke="#000" stroke-width="0.28">100</text>
<line x1="209.00" y1="190.47" x2="211.60" y2="190.47" stroke="#1a1a1a" stroke-width="1.2"/>
<text transform="translate(208.10 192.78) scale(0.83 1.0)" font-size="6.7" font-weight="bold" text-anchor="end" fill="#000" stroke="#000" stroke-width="0.28">75</text>
<line x1="209.00" y1="210.25" x2="211.60" y2="210.25" stroke="#1a1a1a" stroke-width="1.2"/>
<text transform="translate(208.10 212.55) scale(0.83 1.0)" font-size="6.7" font-weight="bold" text-anchor="end" fill="#000" stroke="#000" stroke-width="0.28">50</text>
<line x1="209.00" y1="230.03" x2="211.60" y2="230.03" stroke="#1a1a1a" stroke-width="1.2"/>
<text transform="translate(208.10 232.33) scale(0.83 1.0)" font-size="6.7" font-weight="bold" text-anchor="end" fill="#000" stroke="#000" stroke-width="0.28">25</text>
<line x1="209.00" y1="249.80" x2="211.60" y2="249.80" stroke="#1a1a1a" stroke-width="1.2"/>
<text transform="translate(208.10 252.10) scale(0.83 1.0)" font-size="6.7" font-weight="bold" text-anchor="end" fill="#000" stroke="#000" stroke-width="0.28">0</text>
<line x1="211.60" y1="250.00" x2="335.60" y2="250.00" stroke="#1a1a1a" stroke-width="1.2"/>
<line x1="211.60" y1="250.00" x2="211.60" y2="252.20" stroke="#1a1a1a" stroke-width="1.2"/>
<text transform="translate(211.60 259.50) scale(0.83 1.0)" font-size="6.7" font-weight="bold" text-anchor="middle" fill="#000" stroke="#000" stroke-width="0.28">0</text>
<line x1="241.40" y1="250.00" x2="241.40" y2="252.20" stroke="#1a1a1a" stroke-width="1.2"/>
<text transform="translate(241.40 259.50) scale(0.83 1.0)" font-size="6.7" font-weight="bold" text-anchor="middle" fill="#000" stroke="#000" stroke-width="0.28">25</text>
<line x1="271.40" y1="250.00" x2="271.40" y2="252.20" stroke="#1a1a1a" stroke-width="1.2"/>
<text transform="translate(271.40 259.50) scale(0.83 1.0)" font-size="6.7" font-weight="bold" text-anchor="middle" fill="#000" stroke="#000" stroke-width="0.28">50</text>
<line x1="301.10" y1="250.00" x2="301.10" y2="252.20" stroke="#1a1a1a" stroke-width="1.2"/>
<text transform="translate(301.10 259.50) scale(0.83 1.0)" font-size="6.7" font-weight="bold" text-anchor="middle" fill="#000" stroke="#000" stroke-width="0.28">75</text>
<line x1="331.00" y1="250.00" x2="331.00" y2="252.20" stroke="#1a1a1a" stroke-width="1.2"/>
<text transform="translate(331.00 259.50) scale(0.83 1.0)" font-size="6.7" font-weight="bold" text-anchor="middle" fill="#000" stroke="#000" stroke-width="0.28">100</text>
<text transform="translate(197.10 208.00) rotate(-90)" font-size="7.2" font-weight="bold" text-anchor="middle" fill="#111" stroke="#111" stroke-width="0.3">% survival</text>
<text transform="translate(274.40 268.30)" font-size="6.6" font-weight="bold" text-anchor="middle" fill="#000" stroke="#000" stroke-width="0.2">days</text>
<text x="331.90" y="245.20" font-size="7" text-anchor="end" fill="#000" stroke="#000" stroke-width="0.2"><tspan font-style="italic">P</tspan> &lt; .0001</text>
<line x1="211.60" y1="170.80" x2="331.50" y2="170.80" stroke="#8a8a8a" stroke-width="1.1"/>
<circle cx="331.50" cy="170.80" r="1.5" fill="#000" stroke="none" stroke-width="0.8"/>
<path d="M215.00,174.00 H267.70 V180.00 H269.00 V184.60 H274.20 V192.30 H278.50 V199.20 H331.00 V199.20" fill="none" stroke="#8a8a8a" stroke-width="1.1"/>
<polygon points="239.35,172.55 243.25,172.55 241.30,176.06" fill="#a0a0a0" stroke="#505050" stroke-width="0.9"/>
<polygon points="265.75,178.55 269.65,178.55 267.70,182.06" fill="#a0a0a0" stroke="#505050" stroke-width="0.9"/>
<polygon points="267.05,183.15 270.95,183.15 269.00,186.66" fill="#a0a0a0" stroke="#505050" stroke-width="0.9"/>
<polygon points="272.25,190.85 276.15,190.85 274.20,194.36" fill="#a0a0a0" stroke="#505050" stroke-width="0.9"/>
<polygon points="276.55,197.75 280.45,197.75 278.50,201.25" fill="#a0a0a0" stroke="#505050" stroke-width="0.9"/>
<polygon points="327.05,200.75 330.95,200.75 329.00,204.25" fill="#a0a0a0" stroke="#505050" stroke-width="0.9"/>
<polygon points="330.05,200.75 333.95,200.75 332.00,204.25" fill="#a0a0a0" stroke="#505050" stroke-width="0.9"/>
<path d="M215.00,174.00 H237.00 V180.00 H238.20 V190.20 H241.30 V196.60 H244.20 V200.00 H247.60 V203.40 H249.20 V209.80 H251.30 V213.40 H255.10 V219.80 H256.30 V226.90 H258.30 V233.20 H263.40 V236.40 H264.50 V240.00 H268.10 V243.20 H271.60 V247.00 H272.20 V249.80" fill="none" stroke="#777" stroke-width="1.1"/>
<polygon points="213.30,172.27 216.70,172.27 215.00,175.33" fill="#000" stroke="#000" stroke-width="0.6"/>
<polygon points="235.05,178.55 238.95,178.55 237.00,182.06" fill="#000" stroke="#000" stroke-width="0.6"/>
<polygon points="236.25,188.75 240.15,188.75 238.20,192.25" fill="#000" stroke="#000" stroke-width="0.6"/>
<polygon points="239.35,195.15 243.25,195.15 241.30,198.66" fill="#000" stroke="#000" stroke-width="0.6"/>
<polygon points="242.25,198.55 246.15,198.55 244.20,202.06" fill="#000" stroke="#000" stroke-width="0.6"/>
<polygon points="245.65,201.95 249.55,201.95 247.60,205.46" fill="#000" stroke="#000" stroke-width="0.6"/>
<polygon points="247.25,208.35 251.15,208.35 249.20,211.86" fill="#000" stroke="#000" stroke-width="0.6"/>
<polygon points="249.35,211.95 253.25,211.95 251.30,215.46" fill="#000" stroke="#000" stroke-width="0.6"/>
<polygon points="253.15,218.35 257.05,218.35 255.10,221.86" fill="#000" stroke="#000" stroke-width="0.6"/>
<polygon points="254.35,225.45 258.25,225.45 256.30,228.96" fill="#000" stroke="#000" stroke-width="0.6"/>
<polygon points="256.35,231.75 260.25,231.75 258.30,235.25" fill="#000" stroke="#000" stroke-width="0.6"/>
<polygon points="261.45,234.95 265.35,234.95 263.40,238.46" fill="#000" stroke="#000" stroke-width="0.6"/>
<polygon points="262.55,238.55 266.45,238.55 264.50,242.06" fill="#000" stroke="#000" stroke-width="0.6"/>
<polygon points="266.15,241.75 270.05,241.75 268.10,245.25" fill="#000" stroke="#000" stroke-width="0.6"/>
<polygon points="269.65,245.55 273.55,245.55 271.60,249.06" fill="#000" stroke="#000" stroke-width="0.6"/>
<polygon points="270.25,248.35 274.15,248.35 272.20,251.86" fill="#000" stroke="#000" stroke-width="0.6"/>
<line x1="389.10" y1="163.90" x2="389.10" y2="250.10" stroke="#1a1a1a" stroke-width="1.2"/>
<line x1="386.50" y1="164.30" x2="389.10" y2="164.30" stroke="#1a1a1a" stroke-width="1.2"/>
<text transform="translate(385.60 166.50) scale(0.95 1.0)" font-size="6.4" font-weight="bold" text-anchor="end" fill="#000" stroke="#000" stroke-width="0.28">120</text>
<line x1="386.50" y1="176.59" x2="389.10" y2="176.59" stroke="#1a1a1a" stroke-width="1.2"/>
<text transform="translate(385.60 178.79) scale(0.95 1.0)" font-size="6.4" font-weight="bold" text-anchor="end" fill="#000" stroke="#000" stroke-width="0.28">110</text>
<line x1="386.50" y1="188.87" x2="389.10" y2="188.87" stroke="#1a1a1a" stroke-width="1.2"/>
<text transform="translate(385.60 191.07) scale(0.95 1.0)" font-size="6.4" font-weight="bold" text-anchor="end" fill="#000" stroke="#000" stroke-width="0.28">100</text>
<line x1="386.50" y1="201.16" x2="389.10" y2="201.16" stroke="#1a1a1a" stroke-width="1.2"/>
<text transform="translate(385.60 203.36) scale(0.95 1.0)" font-size="6.4" font-weight="bold" text-anchor="end" fill="#000" stroke="#000" stroke-width="0.28">90</text>
<line x1="386.50" y1="213.44" x2="389.10" y2="213.44" stroke="#1a1a1a" stroke-width="1.2"/>
<text transform="translate(385.60 215.64) scale(0.95 1.0)" font-size="6.4" font-weight="bold" text-anchor="end" fill="#000" stroke="#000" stroke-width="0.28">80</text>
<line x1="386.50" y1="225.73" x2="389.10" y2="225.73" stroke="#1a1a1a" stroke-width="1.2"/>
<text transform="translate(385.60 227.93) scale(0.95 1.0)" font-size="6.4" font-weight="bold" text-anchor="end" fill="#000" stroke="#000" stroke-width="0.28">70</text>
<line x1="386.50" y1="238.01" x2="389.10" y2="238.01" stroke="#1a1a1a" stroke-width="1.2"/>
<text transform="translate(385.60 240.22) scale(0.95 1.0)" font-size="6.4" font-weight="bold" text-anchor="end" fill="#000" stroke="#000" stroke-width="0.28">60</text>
<line x1="386.50" y1="250.30" x2="389.10" y2="250.30" stroke="#1a1a1a" stroke-width="1.2"/>
<text transform="translate(385.60 252.50) scale(0.95 1.0)" font-size="6.4" font-weight="bold" text-anchor="end" fill="#000" stroke="#000" stroke-width="0.28">50</text>
<line x1="389.10" y1="250.10" x2="517.70" y2="250.10" stroke="#1a1a1a" stroke-width="1.2"/>
<line x1="390.80" y1="250.10" x2="390.80" y2="250.90" stroke="#1a1a1a" stroke-width="1.2"/>
<text transform="translate(390.80 256.76)" font-size="6.0" font-weight="bold" text-anchor="middle" fill="#000" stroke="#000" stroke-width="0.28">0</text>
<line x1="421.15" y1="250.10" x2="421.15" y2="250.90" stroke="#1a1a1a" stroke-width="1.2"/>
<text transform="translate(421.15 256.76)" font-size="6.0" font-weight="bold" text-anchor="middle" fill="#000" stroke="#000" stroke-width="0.28">25</text>
<line x1="451.50" y1="250.10" x2="451.50" y2="250.90" stroke="#1a1a1a" stroke-width="1.2"/>
<text transform="translate(451.50 256.76)" font-size="6.0" font-weight="bold" text-anchor="middle" fill="#000" stroke="#000" stroke-width="0.28">50</text>
<line x1="481.85" y1="250.10" x2="481.85" y2="250.90" stroke="#1a1a1a" stroke-width="1.2"/>
<text transform="translate(481.85 256.76)" font-size="6.0" font-weight="bold" text-anchor="middle" fill="#000" stroke="#000" stroke-width="0.28">75</text>
<line x1="512.20" y1="250.10" x2="512.20" y2="250.90" stroke="#1a1a1a" stroke-width="1.2"/>
<text transform="translate(512.20 256.76)" font-size="6.0" font-weight="bold" text-anchor="middle" fill="#000" stroke="#000" stroke-width="0.28">100</text>
<text transform="translate(371.20 205.30) rotate(-90)" font-size="6.75" font-weight="bold" text-anchor="middle" fill="#111" stroke="#111" stroke-width="0.3">% of baseline weight</text>
<text transform="translate(453.40 265.90)" font-size="6.5" font-weight="bold" text-anchor="middle" fill="#000" stroke="#000" stroke-width="0.2">days</text>
<line x1="443.40" y1="185.50" x2="443.40" y2="190.10" stroke="#666666" stroke-width="0.8"/>
<line x1="441.70" y1="185.50" x2="445.10" y2="185.50" stroke="#666666" stroke-width="0.8"/>
<line x1="441.70" y1="190.10" x2="445.10" y2="190.10" stroke="#666666" stroke-width="0.8"/>
<line x1="451.50" y1="186.90" x2="451.50" y2="191.50" stroke="#666666" stroke-width="0.8"/>
<line x1="449.80" y1="186.90" x2="453.20" y2="186.90" stroke="#666666" stroke-width="0.8"/>
<line x1="449.80" y1="191.50" x2="453.20" y2="191.50" stroke="#666666" stroke-width="0.8"/>
<line x1="460.00" y1="186.90" x2="460.00" y2="191.50" stroke="#666666" stroke-width="0.8"/>
<line x1="458.30" y1="186.90" x2="461.70" y2="186.90" stroke="#666666" stroke-width="0.8"/>
<line x1="458.30" y1="191.50" x2="461.70" y2="191.50" stroke="#666666" stroke-width="0.8"/>
<line x1="468.50" y1="186.90" x2="468.50" y2="191.50" stroke="#666666" stroke-width="0.8"/>
<line x1="466.80" y1="186.90" x2="470.20" y2="186.90" stroke="#666666" stroke-width="0.8"/>
<line x1="466.80" y1="191.50" x2="470.20" y2="191.50" stroke="#666666" stroke-width="0.8"/>
<line x1="476.90" y1="186.50" x2="476.90" y2="191.10" stroke="#666666" stroke-width="0.8"/>
<line x1="475.20" y1="186.50" x2="478.60" y2="186.50" stroke="#666666" stroke-width="0.8"/>
<line x1="475.20" y1="191.10" x2="478.60" y2="191.10" stroke="#666666" stroke-width="0.8"/>
<line x1="485.40" y1="185.30" x2="485.40" y2="189.90" stroke="#666666" stroke-width="0.8"/>
<line x1="483.70" y1="185.30" x2="487.10" y2="185.30" stroke="#666666" stroke-width="0.8"/>
<line x1="483.70" y1="189.90" x2="487.10" y2="189.90" stroke="#666666" stroke-width="0.8"/>
<line x1="493.80" y1="179.60" x2="493.80" y2="185.00" stroke="#666666" stroke-width="0.8"/>
<line x1="492.10" y1="179.60" x2="495.50" y2="179.60" stroke="#666666" stroke-width="0.8"/>
<line x1="492.10" y1="185.00" x2="495.50" y2="185.00" stroke="#666666" stroke-width="0.8"/>
<line x1="502.30" y1="174.20" x2="502.30" y2="184.20" stroke="#666666" stroke-width="0.8"/>
<line x1="500.60" y1="174.20" x2="504.00" y2="174.20" stroke="#666666" stroke-width="0.8"/>
<line x1="500.60" y1="184.20" x2="504.00" y2="184.20" stroke="#666666" stroke-width="0.8"/>
<line x1="510.80" y1="172.70" x2="510.80" y2="183.50" stroke="#666666" stroke-width="0.8"/>
<line x1="509.10" y1="172.70" x2="512.50" y2="172.70" stroke="#666666" stroke-width="0.8"/>
<line x1="509.10" y1="183.50" x2="512.50" y2="183.50" stroke="#666666" stroke-width="0.8"/>
<polyline points="389.50,188.90 397.60,206.70 401.10,204.20 404.60,195.60 407.70,191.00 412.40,191.90 416.70,193.60 421.30,191.60 424.80,189.60 429.20,189.20 435.40,188.80 443.40,187.80 451.50,189.20 460.00,189.20 468.50,189.20 476.90,188.80 485.40,187.60 493.80,182.20 502.30,179.60 510.80,178.10" fill="none" stroke="#2a2a2a" stroke-width="1.1" stroke-linejoin="miter"/>
<circle cx="389.50" cy="188.90" r="1.5" fill="#000" stroke="none" stroke-width="0.8"/>
<circle cx="397.60" cy="206.70" r="1.5" fill="#000" stroke="none" stroke-width="0.8"/>
<circle cx="401.10" cy="204.20" r="1.5" fill="#000" stroke="none" stroke-width="0.8"/>
<circle cx="404.60" cy="195.60" r="1.5" fill="#000" stroke="none" stroke-width="0.8"/>
<circle cx="407.70" cy="191.00" r="1.5" fill="#000" stroke="none" stroke-width="0.8"/>
<circle cx="412.40" cy="191.90" r="1.5" fill="#000" stroke="none" stroke-width="0.8"/>
<circle cx="416.70" cy="193.60" r="1.5" fill="#000" stroke="none" stroke-width="0.8"/>
<circle cx="421.30" cy="191.60" r="1.5" fill="#000" stroke="none" stroke-width="0.8"/>
<circle cx="424.80" cy="189.60" r="1.5" fill="#000" stroke="none" stroke-width="0.8"/>
<circle cx="429.20" cy="189.20" r="1.5" fill="#000" stroke="none" stroke-width="0.8"/>
<circle cx="435.40" cy="188.80" r="1.5" fill="#000" stroke="none" stroke-width="0.8"/>
<circle cx="443.40" cy="187.80" r="1.5" fill="#000" stroke="none" stroke-width="0.8"/>
<circle cx="451.50" cy="189.20" r="1.5" fill="#000" stroke="none" stroke-width="0.8"/>
<circle cx="460.00" cy="189.20" r="1.5" fill="#000" stroke="none" stroke-width="0.8"/>
<circle cx="468.50" cy="189.20" r="1.5" fill="#000" stroke="none" stroke-width="0.8"/>
<circle cx="476.90" cy="188.80" r="1.5" fill="#000" stroke="none" stroke-width="0.8"/>
<circle cx="485.40" cy="187.60" r="1.5" fill="#000" stroke="none" stroke-width="0.8"/>
<circle cx="493.80" cy="182.20" r="1.5" fill="#000" stroke="none" stroke-width="0.8"/>
<circle cx="502.30" cy="179.60" r="1.5" fill="#000" stroke="none" stroke-width="0.8"/>
<circle cx="510.80" cy="178.10" r="1.5" fill="#000" stroke="none" stroke-width="0.8"/>
<line x1="421.30" y1="200.00" x2="421.30" y2="206.00" stroke="#666666" stroke-width="0.8"/>
<line x1="419.60" y1="200.00" x2="423.00" y2="200.00" stroke="#666666" stroke-width="0.8"/>
<line x1="419.60" y1="206.00" x2="423.00" y2="206.00" stroke="#666666" stroke-width="0.8"/>
<line x1="425.30" y1="202.00" x2="425.30" y2="209.00" stroke="#666666" stroke-width="0.8"/>
<line x1="423.60" y1="202.00" x2="427.00" y2="202.00" stroke="#666666" stroke-width="0.8"/>
<line x1="423.60" y1="209.00" x2="427.00" y2="209.00" stroke="#666666" stroke-width="0.8"/>
<line x1="428.30" y1="205.50" x2="428.30" y2="212.50" stroke="#666666" stroke-width="0.8"/>
<line x1="426.60" y1="205.50" x2="430.00" y2="205.50" stroke="#666666" stroke-width="0.8"/>
<line x1="426.60" y1="212.50" x2="430.00" y2="212.50" stroke="#666666" stroke-width="0.8"/>
<line x1="434.50" y1="203.00" x2="434.50" y2="210.00" stroke="#666666" stroke-width="0.8"/>
<line x1="432.80" y1="203.00" x2="436.20" y2="203.00" stroke="#666666" stroke-width="0.8"/>
<line x1="432.80" y1="210.00" x2="436.20" y2="210.00" stroke="#666666" stroke-width="0.8"/>
<line x1="443.40" y1="205.80" x2="443.40" y2="211.20" stroke="#666666" stroke-width="0.8"/>
<line x1="441.70" y1="205.80" x2="445.10" y2="205.80" stroke="#666666" stroke-width="0.8"/>
<line x1="441.70" y1="211.20" x2="445.10" y2="211.20" stroke="#666666" stroke-width="0.8"/>
<line x1="451.50" y1="204.20" x2="451.50" y2="211.20" stroke="#666666" stroke-width="0.8"/>
<line x1="449.80" y1="204.20" x2="453.20" y2="204.20" stroke="#666666" stroke-width="0.8"/>
<line x1="449.80" y1="211.20" x2="453.20" y2="211.20" stroke="#666666" stroke-width="0.8"/>
<line x1="460.00" y1="201.90" x2="460.00" y2="208.10" stroke="#666666" stroke-width="0.8"/>
<line x1="458.30" y1="201.90" x2="461.70" y2="201.90" stroke="#666666" stroke-width="0.8"/>
<line x1="458.30" y1="208.10" x2="461.70" y2="208.10" stroke="#666666" stroke-width="0.8"/>
<line x1="468.50" y1="198.00" x2="468.50" y2="206.50" stroke="#666666" stroke-width="0.8"/>
<line x1="466.80" y1="198.00" x2="470.20" y2="198.00" stroke="#666666" stroke-width="0.8"/>
<line x1="466.80" y1="206.50" x2="470.20" y2="206.50" stroke="#666666" stroke-width="0.8"/>
<line x1="476.90" y1="196.50" x2="476.90" y2="205.00" stroke="#666666" stroke-width="0.8"/>
<line x1="475.20" y1="196.50" x2="478.60" y2="196.50" stroke="#666666" stroke-width="0.8"/>
<line x1="475.20" y1="205.00" x2="478.60" y2="205.00" stroke="#666666" stroke-width="0.8"/>
<line x1="485.40" y1="197.30" x2="485.40" y2="205.80" stroke="#666666" stroke-width="0.8"/>
<line x1="483.70" y1="197.30" x2="487.10" y2="197.30" stroke="#666666" stroke-width="0.8"/>
<line x1="483.70" y1="205.80" x2="487.10" y2="205.80" stroke="#666666" stroke-width="0.8"/>
<line x1="493.80" y1="192.70" x2="493.80" y2="201.90" stroke="#666666" stroke-width="0.8"/>
<line x1="492.10" y1="192.70" x2="495.50" y2="192.70" stroke="#666666" stroke-width="0.8"/>
<line x1="492.10" y1="201.90" x2="495.50" y2="201.90" stroke="#666666" stroke-width="0.8"/>
<line x1="502.30" y1="190.40" x2="502.30" y2="202.70" stroke="#666666" stroke-width="0.8"/>
<line x1="500.60" y1="190.40" x2="504.00" y2="190.40" stroke="#666666" stroke-width="0.8"/>
<line x1="500.60" y1="202.70" x2="504.00" y2="202.70" stroke="#666666" stroke-width="0.8"/>
<line x1="510.80" y1="189.60" x2="510.80" y2="201.90" stroke="#666666" stroke-width="0.8"/>
<line x1="509.10" y1="189.60" x2="512.50" y2="189.60" stroke="#666666" stroke-width="0.8"/>
<line x1="509.10" y1="201.90" x2="512.50" y2="201.90" stroke="#666666" stroke-width="0.8"/>
<polyline points="389.50,188.90 397.60,206.70 401.90,198.60 404.60,193.10 407.70,188.60 412.40,191.90 416.70,195.50 421.30,203.20 425.30,206.00 428.30,209.10 434.50,206.50 443.40,208.40 451.50,207.30 460.00,204.50 468.50,201.50 476.90,200.70 485.40,201.20 493.80,197.30 502.30,195.80 510.80,195.00" fill="none" stroke="#2a2a2a" stroke-width="1.1" stroke-linejoin="miter"/>
<polygon points="387.90,187.46 391.10,187.46 389.50,190.34" fill="#fff" stroke="#333" stroke-width="0.8"/>
<polygon points="396.00,205.26 399.20,205.26 397.60,208.14" fill="#fff" stroke="#333" stroke-width="0.8"/>
<polygon points="400.30,197.16 403.50,197.16 401.90,200.04" fill="#fff" stroke="#333" stroke-width="0.8"/>
<polygon points="403.00,191.66 406.20,191.66 404.60,194.54" fill="#fff" stroke="#333" stroke-width="0.8"/>
<polygon points="406.10,187.16 409.30,187.16 407.70,190.04" fill="#fff" stroke="#333" stroke-width="0.8"/>
<polygon points="410.80,190.46 414.00,190.46 412.40,193.34" fill="#fff" stroke="#333" stroke-width="0.8"/>
<polygon points="415.10,194.06 418.30,194.06 416.70,196.94" fill="#fff" stroke="#333" stroke-width="0.8"/>
<polygon points="419.70,201.76 422.90,201.76 421.30,204.64" fill="#fff" stroke="#333" stroke-width="0.8"/>
<polygon points="423.70,204.56 426.90,204.56 425.30,207.44" fill="#fff" stroke="#333" stroke-width="0.8"/>
<polygon points="426.70,207.66 429.90,207.66 428.30,210.54" fill="#fff" stroke="#333" stroke-width="0.8"/>
<polygon points="432.90,205.06 436.10,205.06 434.50,207.94" fill="#fff" stroke="#333" stroke-width="0.8"/>
<polygon points="441.80,206.96 445.00,206.96 443.40,209.84" fill="#fff" stroke="#333" stroke-width="0.8"/>
<polygon points="449.90,205.86 453.10,205.86 451.50,208.74" fill="#fff" stroke="#333" stroke-width="0.8"/>
<polygon points="458.40,203.06 461.60,203.06 460.00,205.94" fill="#fff" stroke="#333" stroke-width="0.8"/>
<polygon points="466.90,200.06 470.10,200.06 468.50,202.94" fill="#fff" stroke="#333" stroke-width="0.8"/>
<polygon points="475.30,199.26 478.50,199.26 476.90,202.14" fill="#fff" stroke="#333" stroke-width="0.8"/>
<polygon points="483.80,199.76 487.00,199.76 485.40,202.64" fill="#fff" stroke="#333" stroke-width="0.8"/>
<polygon points="492.20,195.86 495.40,195.86 493.80,198.74" fill="#fff" stroke="#333" stroke-width="0.8"/>
<polygon points="500.70,194.36 503.90,194.36 502.30,197.24" fill="#fff" stroke="#333" stroke-width="0.8"/>
<polygon points="509.20,193.56 512.40,193.56 510.80,196.44" fill="#fff" stroke="#333" stroke-width="0.8"/>
<line x1="429.20" y1="224.00" x2="429.20" y2="229.00" stroke="#666666" stroke-width="0.8"/>
<line x1="427.50" y1="224.00" x2="430.90" y2="224.00" stroke="#666666" stroke-width="0.8"/>
<line x1="427.50" y1="229.00" x2="430.90" y2="229.00" stroke="#666666" stroke-width="0.8"/>
<line x1="435.00" y1="228.00" x2="435.00" y2="235.00" stroke="#666666" stroke-width="0.8"/>
<line x1="433.30" y1="228.00" x2="436.70" y2="228.00" stroke="#666666" stroke-width="0.8"/>
<line x1="433.30" y1="235.00" x2="436.70" y2="235.00" stroke="#666666" stroke-width="0.8"/>
<line x1="443.30" y1="228.50" x2="443.30" y2="240.50" stroke="#666666" stroke-width="0.8"/>
<line x1="441.60" y1="228.50" x2="445.00" y2="228.50" stroke="#666666" stroke-width="0.8"/>
<line x1="441.60" y1="240.50" x2="445.00" y2="240.50" stroke="#666666" stroke-width="0.8"/>
<polyline points="389.50,188.90 397.60,206.70 401.10,203.00 404.60,194.00 408.20,198.60 412.40,204.20 416.70,211.20 421.80,217.80 425.10,222.70 429.20,226.20 435.00,231.50 443.30,234.50" fill="none" stroke="#2a2a2a" stroke-width="1.1" stroke-linejoin="miter"/>
<polygon points="387.45,187.25 391.55,187.25 389.50,190.94" fill="#000" stroke="#000" stroke-width="0.5"/>
<polygon points="395.55,205.05 399.65,205.05 397.60,208.74" fill="#000" stroke="#000" stroke-width="0.5"/>
<polygon points="399.05,201.35 403.15,201.35 401.10,205.04" fill="#000" stroke="#000" stroke-width="0.5"/>
<polygon points="402.55,192.35 406.65,192.35 404.60,196.04" fill="#000" stroke="#000" stroke-width="0.5"/>
<polygon points="406.15,196.95 410.25,196.95 408.20,200.64" fill="#000" stroke="#000" stroke-width="0.5"/>
<polygon points="410.35,202.55 414.45,202.55 412.40,206.24" fill="#000" stroke="#000" stroke-width="0.5"/>
<polygon points="414.65,209.55 418.75,209.55 416.70,213.24" fill="#000" stroke="#000" stroke-width="0.5"/>
<polygon points="419.75,216.16 423.85,216.16 421.80,219.84" fill="#000" stroke="#000" stroke-width="0.5"/>
<polygon points="423.05,221.05 427.15,221.05 425.10,224.74" fill="#000" stroke="#000" stroke-width="0.5"/>
<polygon points="427.15,224.55 431.25,224.55 429.20,228.24" fill="#000" stroke="#000" stroke-width="0.5"/>
<polygon points="432.95,229.85 437.05,229.85 435.00,233.54" fill="#000" stroke="#000" stroke-width="0.5"/>
<polygon points="441.25,232.85 445.35,232.85 443.30,236.54" fill="#000" stroke="#000" stroke-width="0.5"/>
<line x1="38.50" y1="291.30" x2="38.50" y2="375.10" stroke="#1a1a1a" stroke-width="1.2"/>
<line x1="35.90" y1="296.00" x2="38.50" y2="296.00" stroke="#1a1a1a" stroke-width="1.2"/>
<text transform="translate(35.00 298.30) scale(0.83 1.0)" font-size="6.7" font-weight="bold" text-anchor="end" fill="#000" stroke="#000" stroke-width="0.28">100</text>
<line x1="35.90" y1="315.75" x2="38.50" y2="315.75" stroke="#1a1a1a" stroke-width="1.2"/>
<text transform="translate(35.00 318.05) scale(0.83 1.0)" font-size="6.7" font-weight="bold" text-anchor="end" fill="#000" stroke="#000" stroke-width="0.28">75</text>
<line x1="35.90" y1="335.50" x2="38.50" y2="335.50" stroke="#1a1a1a" stroke-width="1.2"/>
<text transform="translate(35.00 337.80) scale(0.83 1.0)" font-size="6.7" font-weight="bold" text-anchor="end" fill="#000" stroke="#000" stroke-width="0.28">50</text>
<line x1="35.90" y1="355.25" x2="38.50" y2="355.25" stroke="#1a1a1a" stroke-width="1.2"/>
<text transform="translate(35.00 357.55) scale(0.83 1.0)" font-size="6.7" font-weight="bold" text-anchor="end" fill="#000" stroke="#000" stroke-width="0.28">25</text>
<line x1="35.90" y1="375.00" x2="38.50" y2="375.00" stroke="#1a1a1a" stroke-width="1.2"/>
<text transform="translate(35.00 377.30) scale(0.83 1.0)" font-size="6.7" font-weight="bold" text-anchor="end" fill="#000" stroke="#000" stroke-width="0.28">0</text>
<line x1="38.50" y1="375.10" x2="164.10" y2="375.10" stroke="#1a1a1a" stroke-width="1.2"/>
<line x1="39.20" y1="375.10" x2="39.20" y2="377.30" stroke="#1a1a1a" stroke-width="1.2"/>
<text transform="translate(39.20 384.60) scale(0.88 1.0)" font-size="6.4" font-weight="bold" text-anchor="middle" fill="#000" stroke="#000" stroke-width="0.28">0</text>
<line x1="68.90" y1="375.10" x2="68.90" y2="377.30" stroke="#1a1a1a" stroke-width="1.2"/>
<text transform="translate(68.90 384.60) scale(0.88 1.0)" font-size="6.4" font-weight="bold" text-anchor="middle" fill="#000" stroke="#000" stroke-width="0.28">25</text>
<line x1="98.60" y1="375.10" x2="98.60" y2="377.30" stroke="#1a1a1a" stroke-width="1.2"/>
<text transform="translate(98.60 384.60) scale(0.88 1.0)" font-size="6.4" font-weight="bold" text-anchor="middle" fill="#000" stroke="#000" stroke-width="0.28">50</text>
<line x1="128.60" y1="375.10" x2="128.60" y2="377.30" stroke="#1a1a1a" stroke-width="1.2"/>
<text transform="translate(128.60 384.60) scale(0.88 1.0)" font-size="6.4" font-weight="bold" text-anchor="middle" fill="#000" stroke="#000" stroke-width="0.28">75</text>
<line x1="159.20" y1="375.10" x2="159.20" y2="377.30" stroke="#1a1a1a" stroke-width="1.2"/>
<text transform="translate(159.20 384.60) scale(0.88 1.0)" font-size="6.4" font-weight="bold" text-anchor="middle" fill="#000" stroke="#000" stroke-width="0.28">100</text>
<text transform="translate(21.50 333.50) rotate(-90)" font-size="7.2" font-weight="bold" text-anchor="middle" fill="#111" stroke="#111" stroke-width="0.3">% survival</text>
<text transform="translate(101.40 393.20)" font-size="6.4" font-weight="bold" text-anchor="middle" fill="#000" stroke="#000" stroke-width="0.2">days</text>
<text x="164.30" y="371.60" font-size="7" text-anchor="end" fill="#000" stroke="#000" stroke-width="0.2"><tspan font-style="italic">P</tspan> &lt; .0001</text>
<line x1="38.50" y1="296.10" x2="158.60" y2="296.10" stroke="#8a8a8a" stroke-width="1.1"/>
<circle cx="158.60" cy="296.10" r="1.5" fill="#000" stroke="none" stroke-width="0.8"/>
<path d="M50.70,301.50 H88.60 V307.10 H93.50 V314.10 H95.00 V319.30 H114.10 V325.90 H133.20 V332.40 H152.00 V338.10 H158.60 V338.10" fill="none" stroke="#8a8a8a" stroke-width="1.1"/>
<line x1="50.70" y1="296.10" x2="50.70" y2="301.50" stroke="#8a8a8a" stroke-width="1.1"/>
<polygon points="86.65,305.65 90.55,305.65 88.60,309.16" fill="#a0a0a0" stroke="#505050" stroke-width="0.9"/>
<polygon points="91.55,312.65 95.45,312.65 93.50,316.16" fill="#a0a0a0" stroke="#505050" stroke-width="0.9"/>
<polygon points="93.05,317.85 96.95,317.85 95.00,321.36" fill="#a0a0a0" stroke="#505050" stroke-width="0.9"/>
<polygon points="112.15,324.44 116.05,324.44 114.10,327.95" fill="#a0a0a0" stroke="#505050" stroke-width="0.9"/>
<polygon points="131.25,330.94 135.15,330.94 133.20,334.45" fill="#a0a0a0" stroke="#505050" stroke-width="0.9"/>
<polygon points="150.05,336.65 153.95,336.65 152.00,340.16" fill="#a0a0a0" stroke="#505050" stroke-width="0.9"/>
<polygon points="156.65,336.65 160.55,336.65 158.60,340.16" fill="#a0a0a0" stroke="#505050" stroke-width="0.9"/>
<path d="M38.50,296.10 H50.70 V301.80 H56.80 V310.00 H58.20 V317.20 H62.70 V324.40 H70.00 V338.70 H75.00 V346.00 H76.80 V353.40 H84.00 V368.20 H85.80 V375.00" fill="none" stroke="#777" stroke-width="1.1"/>
<polygon points="48.75,300.35 52.65,300.35 50.70,303.86" fill="#000" stroke="#000" stroke-width="0.6"/>
<polygon points="54.85,308.55 58.75,308.55 56.80,312.06" fill="#000" stroke="#000" stroke-width="0.6"/>
<polygon points="56.25,315.75 60.15,315.75 58.20,319.25" fill="#000" stroke="#000" stroke-width="0.6"/>
<polygon points="60.75,322.94 64.65,322.94 62.70,326.45" fill="#000" stroke="#000" stroke-width="0.6"/>
<polygon points="68.05,337.25 71.95,337.25 70.00,340.75" fill="#000" stroke="#000" stroke-width="0.6"/>
<polygon points="73.05,344.55 76.95,344.55 75.00,348.06" fill="#000" stroke="#000" stroke-width="0.6"/>
<polygon points="74.85,351.94 78.75,351.94 76.80,355.45" fill="#000" stroke="#000" stroke-width="0.6"/>
<polygon points="82.05,366.75 85.95,366.75 84.00,370.25" fill="#000" stroke="#000" stroke-width="0.6"/>
<polygon points="83.85,373.55 87.75,373.55 85.80,377.06" fill="#000" stroke="#000" stroke-width="0.6"/>
<line x1="212.00" y1="297.20" x2="212.00" y2="375.60" stroke="#1a1a1a" stroke-width="1.2"/>
<line x1="209.40" y1="297.20" x2="212.00" y2="297.20" stroke="#1a1a1a" stroke-width="1.2"/>
<text transform="translate(208.50 299.33) scale(0.92 1.0)" font-size="6.2" font-weight="bold" text-anchor="end" fill="#000" stroke="#000" stroke-width="0.28">22</text>
<line x1="209.40" y1="312.96" x2="212.00" y2="312.96" stroke="#1a1a1a" stroke-width="1.2"/>
<text transform="translate(208.50 315.09) scale(0.92 1.0)" font-size="6.2" font-weight="bold" text-anchor="end" fill="#000" stroke="#000" stroke-width="0.28">20</text>
<line x1="209.40" y1="328.72" x2="212.00" y2="328.72" stroke="#1a1a1a" stroke-width="1.2"/>
<text transform="translate(208.50 330.85) scale(0.92 1.0)" font-size="6.2" font-weight="bold" text-anchor="end" fill="#000" stroke="#000" stroke-width="0.28">18</text>
<line x1="209.40" y1="344.48" x2="212.00" y2="344.48" stroke="#1a1a1a" stroke-width="1.2"/>
<text transform="translate(208.50 346.61) scale(0.92 1.0)" font-size="6.2" font-weight="bold" text-anchor="end" fill="#000" stroke="#000" stroke-width="0.28">16</text>
<line x1="209.40" y1="360.24" x2="212.00" y2="360.24" stroke="#1a1a1a" stroke-width="1.2"/>
<text transform="translate(208.50 362.37) scale(0.92 1.0)" font-size="6.2" font-weight="bold" text-anchor="end" fill="#000" stroke="#000" stroke-width="0.28">14</text>
<line x1="209.40" y1="376.00" x2="212.00" y2="376.00" stroke="#1a1a1a" stroke-width="1.2"/>
<text transform="translate(208.50 378.13) scale(0.92 1.0)" font-size="6.2" font-weight="bold" text-anchor="end" fill="#000" stroke="#000" stroke-width="0.28">12</text>
<line x1="212.00" y1="375.60" x2="335.60" y2="375.60" stroke="#1a1a1a" stroke-width="1.2"/>
<line x1="214.40" y1="375.60" x2="214.40" y2="377.80" stroke="#1a1a1a" stroke-width="1.2"/>
<text transform="translate(214.40 384.36) scale(0.92 1.0)" font-size="6.0" font-weight="bold" text-anchor="middle" fill="#000" stroke="#000" stroke-width="0.28">0</text>
<line x1="243.60" y1="375.60" x2="243.60" y2="377.80" stroke="#1a1a1a" stroke-width="1.2"/>
<text transform="translate(243.60 384.36) scale(0.92 1.0)" font-size="6.0" font-weight="bold" text-anchor="middle" fill="#000" stroke="#000" stroke-width="0.28">25</text>
<line x1="272.80" y1="375.60" x2="272.80" y2="377.80" stroke="#1a1a1a" stroke-width="1.2"/>
<text transform="translate(272.80 384.36) scale(0.92 1.0)" font-size="6.0" font-weight="bold" text-anchor="middle" fill="#000" stroke="#000" stroke-width="0.28">50</text>
<line x1="302.00" y1="375.60" x2="302.00" y2="377.80" stroke="#1a1a1a" stroke-width="1.2"/>
<text transform="translate(302.00 384.36) scale(0.92 1.0)" font-size="6.0" font-weight="bold" text-anchor="middle" fill="#000" stroke="#000" stroke-width="0.28">75</text>
<line x1="331.20" y1="375.60" x2="331.20" y2="377.80" stroke="#1a1a1a" stroke-width="1.2"/>
<text transform="translate(331.20 384.36) scale(0.92 1.0)" font-size="6.0" font-weight="bold" text-anchor="middle" fill="#000" stroke="#000" stroke-width="0.28">100</text>
<text transform="translate(192.90 336.10) rotate(-90) scale(1.0 0.9)" font-size="6.5" font-weight="bold" text-anchor="middle" fill="#111" stroke="#111" stroke-width="0.3">grams</text>
<text transform="translate(274.30 391.60)" font-size="6.5" font-weight="bold" text-anchor="middle" fill="#000" stroke="#000" stroke-width="0.2">days</text>
<line x1="223.10" y1="307.50" x2="223.10" y2="314.00" stroke="#666666" stroke-width="0.8"/>
<line x1="221.40" y1="307.50" x2="224.80" y2="307.50" stroke="#666666" stroke-width="0.8"/>
<line x1="221.40" y1="314.00" x2="224.80" y2="314.00" stroke="#666666" stroke-width="0.8"/>
<line x1="227.10" y1="308.00" x2="227.10" y2="314.50" stroke="#666666" stroke-width="0.8"/>
<line x1="225.40" y1="308.00" x2="228.80" y2="308.00" stroke="#666666" stroke-width="0.8"/>
<line x1="225.40" y1="314.50" x2="228.80" y2="314.50" stroke="#666666" stroke-width="0.8"/>
<line x1="232.20" y1="305.00" x2="232.20" y2="311.50" stroke="#666666" stroke-width="0.8"/>
<line x1="230.50" y1="305.00" x2="233.90" y2="305.00" stroke="#666666" stroke-width="0.8"/>
<line x1="230.50" y1="311.50" x2="233.90" y2="311.50" stroke="#666666" stroke-width="0.8"/>
<line x1="237.80" y1="299.00" x2="237.80" y2="305.00" stroke="#666666" stroke-width="0.8"/>
<line x1="236.10" y1="299.00" x2="239.50" y2="299.00" stroke="#666666" stroke-width="0.8"/>
<line x1="236.10" y1="305.00" x2="239.50" y2="305.00" stroke="#666666" stroke-width="0.8"/>
<line x1="241.20" y1="301.00" x2="241.20" y2="307.00" stroke="#666666" stroke-width="0.8"/>
<line x1="239.50" y1="301.00" x2="242.90" y2="301.00" stroke="#666666" stroke-width="0.8"/>
<line x1="239.50" y1="307.00" x2="242.90" y2="307.00" stroke="#666666" stroke-width="0.8"/>
<line x1="245.30" y1="301.00" x2="245.30" y2="307.00" stroke="#666666" stroke-width="0.8"/>
<line x1="243.60" y1="301.00" x2="247.00" y2="301.00" stroke="#666666" stroke-width="0.8"/>
<line x1="243.60" y1="307.00" x2="247.00" y2="307.00" stroke="#666666" stroke-width="0.8"/>
<line x1="249.90" y1="303.00" x2="249.90" y2="309.00" stroke="#666666" stroke-width="0.8"/>
<line x1="248.20" y1="303.00" x2="251.60" y2="303.00" stroke="#666666" stroke-width="0.8"/>
<line x1="248.20" y1="309.00" x2="251.60" y2="309.00" stroke="#666666" stroke-width="0.8"/>
<line x1="260.20" y1="298.50" x2="260.20" y2="305.50" stroke="#666666" stroke-width="0.8"/>
<line x1="258.50" y1="298.50" x2="261.90" y2="298.50" stroke="#666666" stroke-width="0.8"/>
<line x1="258.50" y1="305.50" x2="261.90" y2="305.50" stroke="#666666" stroke-width="0.8"/>
<line x1="271.50" y1="301.00" x2="271.50" y2="308.00" stroke="#666666" stroke-width="0.8"/>
<line x1="269.80" y1="301.00" x2="273.20" y2="301.00" stroke="#666666" stroke-width="0.8"/>
<line x1="269.80" y1="308.00" x2="273.20" y2="308.00" stroke="#666666" stroke-width="0.8"/>
<line x1="278.60" y1="297.00" x2="278.60" y2="304.00" stroke="#666666" stroke-width="0.8"/>
<line x1="276.90" y1="297.00" x2="280.30" y2="297.00" stroke="#666666" stroke-width="0.8"/>
<line x1="276.90" y1="304.00" x2="280.30" y2="304.00" stroke="#666666" stroke-width="0.8"/>
<line x1="286.70" y1="300.50" x2="286.70" y2="307.00" stroke="#666666" stroke-width="0.8"/>
<line x1="285.00" y1="300.50" x2="288.40" y2="300.50" stroke="#666666" stroke-width="0.8"/>
<line x1="285.00" y1="307.00" x2="288.40" y2="307.00" stroke="#666666" stroke-width="0.8"/>
<line x1="297.30" y1="300.50" x2="297.30" y2="307.00" stroke="#666666" stroke-width="0.8"/>
<line x1="295.60" y1="300.50" x2="299.00" y2="300.50" stroke="#666666" stroke-width="0.8"/>
<line x1="295.60" y1="307.00" x2="299.00" y2="307.00" stroke="#666666" stroke-width="0.8"/>
<line x1="306.50" y1="299.50" x2="306.50" y2="307.00" stroke="#666666" stroke-width="0.8"/>
<line x1="304.80" y1="299.50" x2="308.20" y2="299.50" stroke="#666666" stroke-width="0.8"/>
<line x1="304.80" y1="307.00" x2="308.20" y2="307.00" stroke="#666666" stroke-width="0.8"/>
<line x1="313.20" y1="298.00" x2="313.20" y2="305.00" stroke="#666666" stroke-width="0.8"/>
<line x1="311.50" y1="298.00" x2="314.90" y2="298.00" stroke="#666666" stroke-width="0.8"/>
<line x1="311.50" y1="305.00" x2="314.90" y2="305.00" stroke="#666666" stroke-width="0.8"/>
<line x1="322.00" y1="297.00" x2="322.00" y2="305.00" stroke="#666666" stroke-width="0.8"/>
<line x1="320.30" y1="297.00" x2="323.70" y2="297.00" stroke="#666666" stroke-width="0.8"/>
<line x1="320.30" y1="305.00" x2="323.70" y2="305.00" stroke="#666666" stroke-width="0.8"/>
<line x1="329.90" y1="297.00" x2="329.90" y2="305.00" stroke="#666666" stroke-width="0.8"/>
<line x1="328.20" y1="297.00" x2="331.60" y2="297.00" stroke="#666666" stroke-width="0.8"/>
<line x1="328.20" y1="305.00" x2="331.60" y2="305.00" stroke="#666666" stroke-width="0.8"/>
<polyline points="211.60,307.50 218.10,319.20 223.10,310.70 227.10,311.10 232.20,308.10 237.80,302.10 241.20,304.10 245.30,304.10 249.90,306.10 260.20,302.00 271.50,304.50 278.60,300.60 286.70,303.80 297.30,303.80 306.50,303.20 313.20,301.50 322.00,300.90 329.90,300.90" fill="none" stroke="#2a2a2a" stroke-width="1.1" stroke-linejoin="miter"/>
<rect x="210.30" y="306.20" width="2.6" height="2.6" fill="#000"/>
<rect x="216.80" y="317.90" width="2.6" height="2.6" fill="#000"/>
<rect x="221.80" y="309.40" width="2.6" height="2.6" fill="#000"/>
<rect x="225.80" y="309.80" width="2.6" height="2.6" fill="#000"/>
<rect x="230.90" y="306.80" width="2.6" height="2.6" fill="#000"/>
<rect x="236.50" y="300.80" width="2.6" height="2.6" fill="#000"/>
<rect x="239.90" y="302.80" width="2.6" height="2.6" fill="#000"/>
<rect x="244.00" y="302.80" width="2.6" height="2.6" fill="#000"/>
<rect x="248.60" y="304.80" width="2.6" height="2.6" fill="#000"/>
<rect x="258.90" y="300.70" width="2.6" height="2.6" fill="#000"/>
<rect x="270.20" y="303.20" width="2.6" height="2.6" fill="#000"/>
<rect x="277.30" y="299.30" width="2.6" height="2.6" fill="#000"/>
<rect x="285.40" y="302.50" width="2.6" height="2.6" fill="#000"/>
<rect x="296.00" y="302.50" width="2.6" height="2.6" fill="#000"/>
<rect x="305.20" y="301.90" width="2.6" height="2.6" fill="#000"/>
<rect x="311.90" y="300.20" width="2.6" height="2.6" fill="#000"/>
<rect x="320.70" y="299.60" width="2.6" height="2.6" fill="#000"/>
<rect x="328.60" y="299.60" width="2.6" height="2.6" fill="#000"/>
<line x1="222.50" y1="326.00" x2="222.50" y2="339.00" stroke="#666666" stroke-width="0.8"/>
<line x1="220.80" y1="326.00" x2="224.20" y2="326.00" stroke="#666666" stroke-width="0.8"/>
<line x1="220.80" y1="339.00" x2="224.20" y2="339.00" stroke="#666666" stroke-width="0.8"/>
<line x1="226.50" y1="309.00" x2="226.50" y2="315.50" stroke="#666666" stroke-width="0.8"/>
<line x1="224.80" y1="309.00" x2="228.20" y2="309.00" stroke="#666666" stroke-width="0.8"/>
<line x1="224.80" y1="315.50" x2="228.20" y2="315.50" stroke="#666666" stroke-width="0.8"/>
<line x1="232.20" y1="305.00" x2="232.20" y2="311.50" stroke="#666666" stroke-width="0.8"/>
<line x1="230.50" y1="305.00" x2="233.90" y2="305.00" stroke="#666666" stroke-width="0.8"/>
<line x1="230.50" y1="311.50" x2="233.90" y2="311.50" stroke="#666666" stroke-width="0.8"/>
<line x1="237.80" y1="311.00" x2="237.80" y2="319.00" stroke="#666666" stroke-width="0.8"/>
<line x1="236.10" y1="311.00" x2="239.50" y2="311.00" stroke="#666666" stroke-width="0.8"/>
<line x1="236.10" y1="319.00" x2="239.50" y2="319.00" stroke="#666666" stroke-width="0.8"/>
<line x1="241.20" y1="319.00" x2="241.20" y2="327.50" stroke="#666666" stroke-width="0.8"/>
<line x1="239.50" y1="319.00" x2="242.90" y2="319.00" stroke="#666666" stroke-width="0.8"/>
<line x1="239.50" y1="327.50" x2="242.90" y2="327.50" stroke="#666666" stroke-width="0.8"/>
<line x1="244.30" y1="321.00" x2="244.30" y2="329.00" stroke="#666666" stroke-width="0.8"/>
<line x1="242.60" y1="321.00" x2="246.00" y2="321.00" stroke="#666666" stroke-width="0.8"/>
<line x1="242.60" y1="329.00" x2="246.00" y2="329.00" stroke="#666666" stroke-width="0.8"/>
<line x1="249.90" y1="328.50" x2="249.90" y2="337.50" stroke="#666666" stroke-width="0.8"/>
<line x1="248.20" y1="328.50" x2="251.60" y2="328.50" stroke="#666666" stroke-width="0.8"/>
<line x1="248.20" y1="337.50" x2="251.60" y2="337.50" stroke="#666666" stroke-width="0.8"/>
<line x1="260.20" y1="338.50" x2="260.20" y2="346.50" stroke="#666666" stroke-width="0.8"/>
<line x1="258.50" y1="338.50" x2="261.90" y2="338.50" stroke="#666666" stroke-width="0.8"/>
<line x1="258.50" y1="346.50" x2="261.90" y2="346.50" stroke="#666666" stroke-width="0.8"/>
<line x1="271.50" y1="337.60" x2="271.50" y2="346.50" stroke="#666666" stroke-width="0.8"/>
<line x1="269.80" y1="337.60" x2="273.20" y2="337.60" stroke="#666666" stroke-width="0.8"/>
<line x1="269.80" y1="346.50" x2="273.20" y2="346.50" stroke="#666666" stroke-width="0.8"/>
<line x1="278.60" y1="342.00" x2="278.60" y2="351.00" stroke="#666666" stroke-width="0.8"/>
<line x1="276.90" y1="342.00" x2="280.30" y2="342.00" stroke="#666666" stroke-width="0.8"/>
<line x1="276.90" y1="351.00" x2="280.30" y2="351.00" stroke="#666666" stroke-width="0.8"/>
<line x1="286.70" y1="337.30" x2="286.70" y2="347.90" stroke="#666666" stroke-width="0.8"/>
<line x1="285.00" y1="337.30" x2="288.40" y2="337.30" stroke="#666666" stroke-width="0.8"/>
<line x1="285.00" y1="347.90" x2="288.40" y2="347.90" stroke="#666666" stroke-width="0.8"/>
<line x1="297.30" y1="337.30" x2="297.30" y2="347.90" stroke="#666666" stroke-width="0.8"/>
<line x1="295.60" y1="337.30" x2="299.00" y2="337.30" stroke="#666666" stroke-width="0.8"/>
<line x1="295.60" y1="347.90" x2="299.00" y2="347.90" stroke="#666666" stroke-width="0.8"/>
<line x1="306.50" y1="341.50" x2="306.50" y2="351.40" stroke="#666666" stroke-width="0.8"/>
<line x1="304.80" y1="341.50" x2="308.20" y2="341.50" stroke="#666666" stroke-width="0.8"/>
<line x1="304.80" y1="351.40" x2="308.20" y2="351.40" stroke="#666666" stroke-width="0.8"/>
<line x1="313.20" y1="340.30" x2="313.20" y2="352.10" stroke="#666666" stroke-width="0.8"/>
<line x1="311.50" y1="340.30" x2="314.90" y2="340.30" stroke="#666666" stroke-width="0.8"/>
<line x1="311.50" y1="352.10" x2="314.90" y2="352.10" stroke="#666666" stroke-width="0.8"/>
<line x1="322.00" y1="339.40" x2="322.00" y2="353.20" stroke="#666666" stroke-width="0.8"/>
<line x1="320.30" y1="339.40" x2="323.70" y2="339.40" stroke="#666666" stroke-width="0.8"/>
<line x1="320.30" y1="353.20" x2="323.70" y2="353.20" stroke="#666666" stroke-width="0.8"/>
<line x1="329.90" y1="340.30" x2="329.90" y2="357.00" stroke="#666666" stroke-width="0.8"/>
<line x1="328.20" y1="340.30" x2="331.60" y2="340.30" stroke="#666666" stroke-width="0.8"/>
<line x1="328.20" y1="357.00" x2="331.60" y2="357.00" stroke="#666666" stroke-width="0.8"/>
<polyline points="211.60,307.50 218.10,319.20 222.50,332.30 226.50,312.10 232.20,308.10 237.80,315.10 241.20,323.20 244.30,324.80 249.90,332.90 260.20,342.40 271.50,341.50 278.60,346.50 286.70,342.10 297.30,342.10 306.50,346.10 313.20,346.10 322.00,346.10 329.90,347.90" fill="none" stroke="#2a2a2a" stroke-width="1.1" stroke-linejoin="miter"/>
<polygon points="210.00,306.06 213.20,306.06 211.60,308.94" fill="#fff" stroke="#333" stroke-width="0.8"/>
<polygon points="216.50,317.76 219.70,317.76 218.10,320.64" fill="#fff" stroke="#333" stroke-width="0.8"/>
<polygon points="220.90,330.86 224.10,330.86 222.50,333.74" fill="#fff" stroke="#333" stroke-width="0.8"/>
<polygon points="224.90,310.66 228.10,310.66 226.50,313.54" fill="#fff" stroke="#333" stroke-width="0.8"/>
<polygon points="230.60,306.66 233.80,306.66 232.20,309.54" fill="#fff" stroke="#333" stroke-width="0.8"/>
<polygon points="236.20,313.66 239.40,313.66 237.80,316.54" fill="#fff" stroke="#333" stroke-width="0.8"/>
<polygon points="239.60,321.76 242.80,321.76 241.20,324.64" fill="#fff" stroke="#333" stroke-width="0.8"/>
<polygon points="242.70,323.36 245.90,323.36 244.30,326.24" fill="#fff" stroke="#333" stroke-width="0.8"/>
<polygon points="248.30,331.46 251.50,331.46 249.90,334.34" fill="#fff" stroke="#333" stroke-width="0.8"/>
<polygon points="258.60,340.96 261.80,340.96 260.20,343.84" fill="#fff" stroke="#333" stroke-width="0.8"/>
<polygon points="269.90,340.06 273.10,340.06 271.50,342.94" fill="#fff" stroke="#333" stroke-width="0.8"/>
<polygon points="277.00,345.06 280.20,345.06 278.60,347.94" fill="#fff" stroke="#333" stroke-width="0.8"/>
<polygon points="285.10,340.66 288.30,340.66 286.70,343.54" fill="#fff" stroke="#333" stroke-width="0.8"/>
<polygon points="295.70,340.66 298.90,340.66 297.30,343.54" fill="#fff" stroke="#333" stroke-width="0.8"/>
<polygon points="304.90,344.66 308.10,344.66 306.50,347.54" fill="#fff" stroke="#333" stroke-width="0.8"/>
<polygon points="311.60,344.66 314.80,344.66 313.20,347.54" fill="#fff" stroke="#333" stroke-width="0.8"/>
<polygon points="320.40,344.66 323.60,344.66 322.00,347.54" fill="#fff" stroke="#333" stroke-width="0.8"/>
<polygon points="328.30,346.46 331.50,346.46 329.90,349.34" fill="#fff" stroke="#333" stroke-width="0.8"/>
<line x1="241.20" y1="354.00" x2="241.20" y2="362.00" stroke="#666666" stroke-width="0.8"/>
<line x1="239.50" y1="354.00" x2="242.90" y2="354.00" stroke="#666666" stroke-width="0.8"/>
<line x1="239.50" y1="362.00" x2="242.90" y2="362.00" stroke="#666666" stroke-width="0.8"/>
<line x1="245.30" y1="354.00" x2="245.30" y2="362.00" stroke="#666666" stroke-width="0.8"/>
<line x1="243.60" y1="354.00" x2="247.00" y2="354.00" stroke="#666666" stroke-width="0.8"/>
<line x1="243.60" y1="362.00" x2="247.00" y2="362.00" stroke="#666666" stroke-width="0.8"/>
<line x1="249.90" y1="355.00" x2="249.90" y2="364.00" stroke="#666666" stroke-width="0.8"/>
<line x1="248.20" y1="355.00" x2="251.60" y2="355.00" stroke="#666666" stroke-width="0.8"/>
<line x1="248.20" y1="364.00" x2="251.60" y2="364.00" stroke="#666666" stroke-width="0.8"/>
<polyline points="211.60,307.50 218.10,319.20 222.50,340.90 226.50,323.20 232.20,335.30 237.80,351.00 241.20,357.90 245.30,357.90 249.90,359.90" fill="none" stroke="#2a2a2a" stroke-width="1.1" stroke-linejoin="miter"/>
<polygon points="209.55,305.85 213.65,305.85 211.60,309.55" fill="#000" stroke="#000" stroke-width="0.5"/>
<polygon points="216.05,317.55 220.15,317.55 218.10,321.25" fill="#000" stroke="#000" stroke-width="0.5"/>
<polygon points="220.45,339.25 224.55,339.25 222.50,342.94" fill="#000" stroke="#000" stroke-width="0.5"/>
<polygon points="224.45,321.55 228.55,321.55 226.50,325.25" fill="#000" stroke="#000" stroke-width="0.5"/>
<polygon points="230.15,333.65 234.25,333.65 232.20,337.35" fill="#000" stroke="#000" stroke-width="0.5"/>
<polygon points="235.75,349.35 239.85,349.35 237.80,353.05" fill="#000" stroke="#000" stroke-width="0.5"/>
<polygon points="239.15,356.25 243.25,356.25 241.20,359.94" fill="#000" stroke="#000" stroke-width="0.5"/>
<polygon points="243.25,356.25 247.35,356.25 245.30,359.94" fill="#000" stroke="#000" stroke-width="0.5"/>
<polygon points="247.85,358.25 251.95,358.25 249.90,361.94" fill="#000" stroke="#000" stroke-width="0.5"/>
</g></svg></body></html>
